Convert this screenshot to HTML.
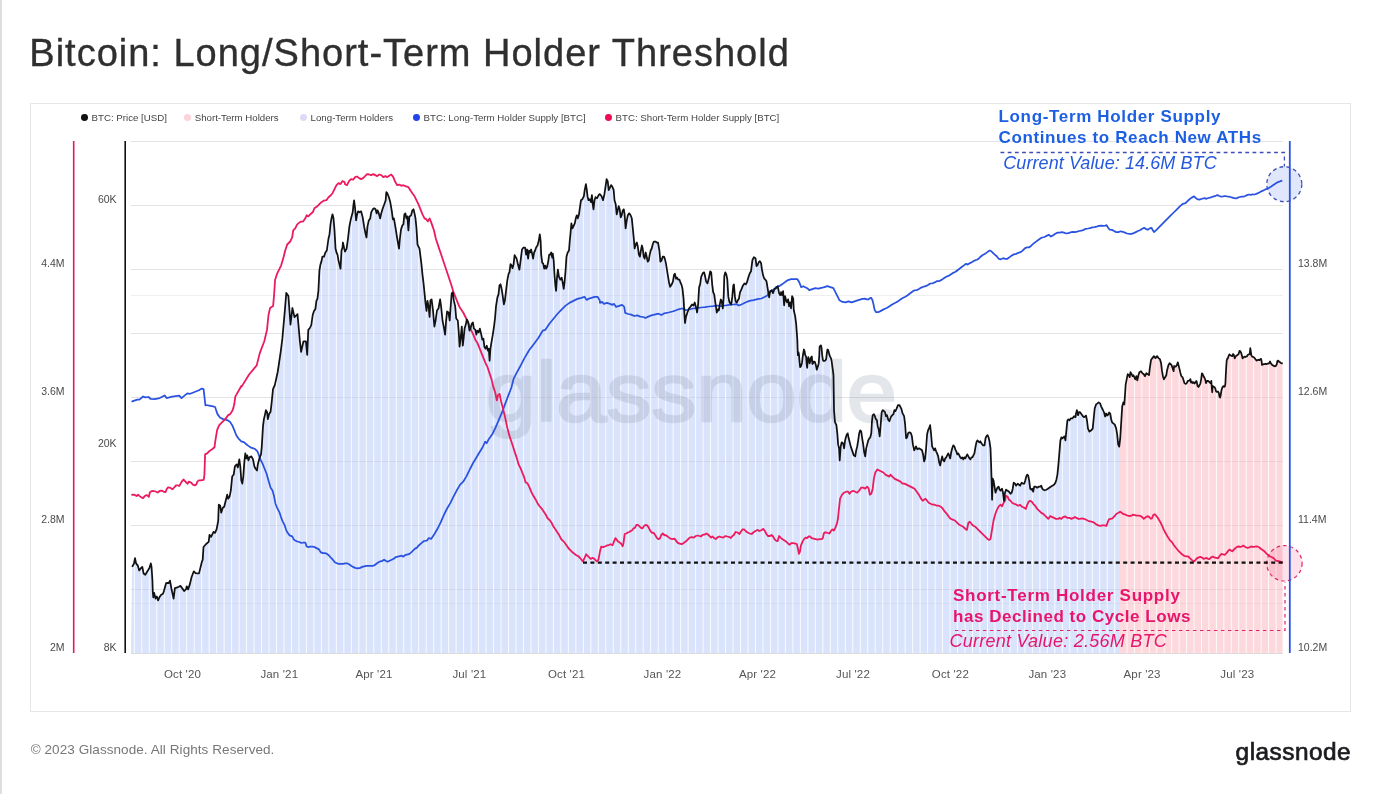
<!DOCTYPE html>
<html><head><meta charset="utf-8"><title>Bitcoin: Long/Short-Term Holder Threshold</title>
<style>
html,body{margin:0;padding:0;background:#fff;}
body{width:1379px;height:794px;position:relative;overflow:hidden;font-family:"Liberation Sans",sans-serif;}
.pb{position:absolute;left:0;top:0;width:2px;height:794px;background:#dedede;}
.title{position:absolute;left:29.3px;top:31px;font-size:38px;line-height:44px;color:#2f2f2f;letter-spacing:1.0px;white-space:nowrap;-webkit-text-stroke:0.35px #2f2f2f;}
.box{position:absolute;left:30px;top:103px;width:1319px;height:607px;border:1px solid #e6e6e6;}
.dot{position:absolute;top:114.2px;width:6.8px;height:6.8px;border-radius:50%;}
.lt{position:absolute;top:111.7px;font-size:9.7px;line-height:12px;color:#444;white-space:nowrap;}
.ann{position:absolute;white-space:nowrap;}
.ab{font-weight:bold;font-size:17px;letter-spacing:0.5px;line-height:21px;}
.ai{font-style:italic;font-size:18px;line-height:20px;letter-spacing:0.15px;}
.foot{position:absolute;left:30.7px;top:742.4px;font-size:13.5px;letter-spacing:0.07px;line-height:16px;color:#777;white-space:nowrap;}
.logo{position:absolute;left:1235.6px;top:736.7px;font-size:24.4px;line-height:30px;color:#1b1b1f;white-space:nowrap;letter-spacing:0.47px;-webkit-text-stroke:0.7px #1b1b1f;}
</style></head><body>
<div class="pb"></div>
<div class="title">Bitcoin: Long/Short-Term Holder Threshold</div>
<div class="box"></div>
<div class="dot" style="left:80.9px;background:#111"></div>
<div class="lt" style="left:91.6px">BTC: Price [USD]</div>
<div class="dot" style="left:184.0px;background:#fdd3da"></div>
<div class="lt" style="left:194.7px">Short-Term Holders</div>
<div class="dot" style="left:299.9px;background:#dcdcf8"></div>
<div class="lt" style="left:310.6px">Long-Term Holders</div>
<div class="dot" style="left:412.9px;background:#2446e8"></div>
<div class="lt" style="left:423.6px">BTC: Long-Term Holder Supply [BTC]</div>
<div class="dot" style="left:604.9px;background:#ec0f54"></div>
<div class="lt" style="left:615.6px">BTC: Short-Term Holder Supply [BTC]</div>
<svg width="1379" height="794" viewBox="0 0 1379 794" style="position:absolute;left:0;top:0">
<defs><clipPath id="ca"><polygon points="131.0,653.0 132.1,566.9 133.9,563.8 135.0,558.1 136.1,563.4 137.8,565.6 139.2,570.4 140.9,568.2 142.3,566.9 143.6,573.5 145.3,574.8 147.1,571.7 149.3,568.2 150.8,563.4 151.5,566.5 152.4,579.7 152.8,592.0 153.3,597.3 154.2,592.9 155.5,598.6 156.8,596.4 158.1,600.4 159.4,597.3 161.2,594.7 163.0,593.8 163.9,591.1 166.1,583.2 167.4,582.8 168.7,583.2 170.0,580.6 171.4,588.5 173.6,598.6 174.9,588.1 176.6,587.6 178.8,586.7 180.6,585.9 182.4,588.5 184.1,591.1 185.9,589.4 186.8,586.3 188.1,589.4 189.9,584.1 191.6,577.0 193.8,571.3 195.6,573.1 198.0,573.5 199.0,573.4 202.0,561.3 202.7,559.9 203.5,547.0 206.1,544.0 208.7,541.9 209.5,534.9 211.1,536.9 213.5,531.9 215.1,532.9 216.7,528.9 218.2,520.8 218.8,504.7 220.2,505.7 221.2,512.7 222.8,507.7 224.2,506.7 226.2,498.7 227.2,494.6 228.2,498.7 229.6,496.6 230.8,490.6 232.2,476.5 233.7,474.5 234.9,466.4 236.7,464.4 237.9,467.4 239.3,459.4 240.3,466.4 241.3,480.5 242.3,483.6 243.3,476.5 244.3,462.4 245.3,453.4 246.3,458.4 247.3,455.4 248.4,460.4 249.4,457.4 251.4,456.4 253.0,459.4 254.4,466.4 255.4,468.5 257.0,470.5 257.8,464.4 259.4,458.4 261.0,454.4 261.8,446.3 263.0,426.2 263.9,419.1 265.1,414.1 265.9,410.1 267.1,412.1 267.9,419.1 269.1,414.1 270.5,412.1 271.5,404.0 273.0,389.1 274.8,385.1 277.8,371.5 280.9,350.3 282.4,338.2 284.8,311.1 286.3,292.9 288.4,296.0 290.5,324.7 292.4,308.0 294.5,317.1 297.5,314.1 299.9,341.3 301.1,351.8 303.5,341.3 305.9,341.3 307.2,354.9 308.3,329.9 309.9,328.0 311.3,325.0 312.7,315.0 314.0,310.9 315.4,308.9 316.4,300.9 317.4,298.9 318.4,290.8 319.4,270.7 320.4,264.6 321.4,261.6 322.4,256.6 324.0,256.6 325.4,252.5 326.8,250.5 328.5,238.5 329.5,234.4 330.5,224.4 331.5,218.3 332.5,214.3 333.5,218.3 334.5,230.4 335.5,248.5 336.5,252.5 337.5,254.6 338.5,260.6 339.5,264.6 340.5,268.7 341.5,250.5 342.5,247.5 342.9,242.5 344.2,248.5 345.0,251.6 346.6,248.6 348.0,238.5 349.4,226.4 351.0,218.4 352.7,212.3 353.5,204.3 354.1,200.3 355.1,208.3 356.1,220.4 357.1,214.4 358.1,211.3 359.5,212.3 361.1,211.3 362.7,217.4 364.1,226.4 365.5,233.5 366.5,237.5 367.5,226.4 368.8,220.4 370.2,218.4 371.2,212.3 372.8,209.3 374.2,208.3 375.6,209.3 376.6,213.4 377.6,210.3 378.8,213.4 380.2,218.4 381.2,213.4 382.8,208.3 384.3,204.3 385.7,200.3 386.3,192.2 387.3,193.2 388.9,197.2 390.3,202.3 391.7,210.3 392.9,219.4 393.9,218.4 395.3,226.4 396.9,236.5 397.9,242.5 399.0,248.6 399.8,239.5 401.0,229.5 402.4,225.4 403.4,224.4 404.4,214.4 405.4,213.4 406.4,218.4 407.4,216.4 408.4,230.5 409.4,216.4 411.0,215.4 412.4,210.3 413.5,209.3 414.5,213.4 415.5,218.4 416.5,228.5 417.5,244.6 418.5,246.6 419.5,248.6 420.5,256.6 421.5,264.7 422.5,274.8 423.5,282.8 424.5,292.9 425.5,302.9 426.5,311.0 427.5,300.9 428.6,307.0 429.6,317.0 430.4,300.5 431.6,299.4 433.0,310.5 434.4,326.6 435.6,320.5 437.0,310.5 438.5,308.5 440.1,299.4 441.1,306.4 442.5,320.5 444.1,328.6 445.1,334.6 446.1,320.5 447.1,311.5 448.5,312.5 449.7,320.5 450.5,308.5 451.7,293.4 452.8,292.3 453.8,300.4 455.2,306.4 456.2,318.5 457.8,320.5 458.8,332.6 459.6,346.7 460.6,338.7 461.8,326.6 462.8,345.7 463.8,336.6 464.6,328.6 465.8,324.6 466.8,319.5 468.3,322.5 469.5,330.6 470.7,327.6 471.9,323.6 472.9,322.5 473.9,328.6 475.3,329.6 476.3,334.6 477.3,330.6 478.7,332.6 479.9,328.6 481.3,334.6 482.3,339.7 483.4,338.7 484.4,346.7 485.6,348.7 486.8,345.7 487.8,350.7 488.8,348.7 489.6,360.8 490.4,348.7 491.4,342.7 492.8,334.6 494.0,326.6 495.0,318.5 496.0,306.4 497.4,297.4 498.5,294.4 499.5,285.3 500.5,284.3 501.5,288.3 502.5,294.4 503.9,304.4 504.9,300.4 506.1,290.3 507.3,280.3 508.5,274.2 509.5,272.2 510.5,264.2 511.5,265.2 512.5,268.2 513.6,264.2 514.6,255.1 515.6,257.1 516.6,258.6 518.0,264.6 519.4,269.7 520.6,260.6 522.0,249.5 523.5,247.5 525.1,247.5 526.1,254.6 527.1,249.5 528.1,258.6 529.1,250.5 530.1,252.5 531.1,249.5 532.1,253.6 533.1,258.6 534.1,252.5 535.1,250.5 536.1,247.5 537.5,245.5 538.8,240.5 539.8,234.4 540.6,240.5 541.2,254.6 542.2,262.6 543.2,263.6 544.2,268.7 545.2,265.6 546.2,268.7 547.2,266.6 548.2,261.6 549.2,254.6 550.2,254.6 551.2,252.5 552.2,257.6 552.8,253.6 553.7,260.6 554.5,274.7 555.3,284.8 556.1,290.8 556.9,278.7 557.9,269.7 558.9,276.7 560.3,279.7 561.7,277.7 562.7,282.7 563.7,288.8 564.5,282.7 565.7,268.7 566.5,256.6 567.7,252.5 569.0,250.5 569.8,240.5 570.6,232.4 571.4,223.4 572.4,228.4 573.4,226.4 574.8,223.4 575.8,218.3 576.8,215.3 577.8,218.3 579.0,214.3 579.8,208.3 581.0,200.2 582.4,199.2 583.9,196.2 584.7,190.1 585.9,184.1 586.7,189.1 587.5,196.2 588.5,200.2 589.9,199.2 591.1,202.2 591.9,195.2 592.7,204.2 593.5,209.3 594.5,200.2 595.5,197.2 597.1,198.2 598.6,195.2 599.6,194.2 600.0,194.2 601.6,196.2 603.0,200.2 604.4,194.2 605.6,186.1 606.6,179.1 607.7,181.1 608.7,190.1 609.7,188.1 611.1,185.1 612.5,187.1 613.7,190.1 614.5,200.2 615.7,204.2 616.7,214.3 617.7,210.3 618.7,206.2 619.7,209.3 620.7,217.3 621.7,215.3 622.8,210.3 623.8,209.3 624.6,214.3 625.6,228.4 626.6,221.3 627.8,215.3 629.2,213.3 630.6,215.3 631.8,218.3 632.8,228.4 633.8,238.5 634.6,248.5 635.8,244.5 636.8,242.5 637.8,246.5 638.9,254.6 639.9,256.6 640.9,250.5 641.9,245.5 642.7,248.5 643.7,256.6 644.7,258.6 645.7,252.5 646.7,256.6 647.7,261.6 648.7,260.6 649.7,254.6 650.7,250.5 651.7,248.5 652.7,244.5 653.8,241.5 655.4,241.5 656.8,242.5 658.0,242.5 659.4,250.5 660.4,261.6 661.4,260.6 662.8,256.6 664.0,256.6 664.8,258.6 666.0,263.6 667.4,272.7 668.9,281.7 670.1,286.8 671.5,284.8 672.9,281.7 674.1,274.7 674.9,273.7 676.1,278.7 677.1,277.7 678.1,279.7 679.5,279.7 680.5,282.7 681.5,284.8 682.5,288.8 683.6,298.9 684.2,310.9 685.0,323.0 686.0,316.6 687.4,312.5 689.0,308.5 690.6,306.5 692.0,304.5 693.5,305.5 694.7,302.5 696.1,307.5 697.1,312.5 698.1,304.5 699.1,287.4 700.1,284.4 701.1,277.3 702.7,273.3 704.1,272.3 705.1,276.3 706.1,281.3 707.5,283.4 708.8,278.3 710.2,271.3 711.2,272.3 712.2,284.4 713.2,292.4 714.2,294.4 715.2,301.5 716.2,308.5 716.8,312.5 717.8,309.5 718.8,310.5 719.6,305.5 720.8,299.5 721.8,301.5 722.8,308.5 723.7,296.4 724.3,276.3 725.3,272.3 726.3,274.3 727.3,279.3 728.3,296.4 729.3,301.5 730.3,303.5 731.3,304.5 732.3,296.4 733.3,285.4 733.9,284.4 734.9,296.4 735.7,301.5 736.9,302.5 737.7,300.5 739.0,298.5 740.0,292.4 741.4,289.4 743.0,285.4 744.4,283.4 745.8,284.4 747.0,282.3 748.4,277.3 749.8,273.3 751.0,271.3 752.4,260.2 753.9,257.2 755.5,258.2 756.5,266.2 757.5,265.2 758.7,262.2 759.9,261.2 761.1,263.2 761.9,269.3 763.1,275.3 764.1,278.3 765.1,279.3 766.5,281.3 767.5,287.4 768.6,294.4 769.2,297.4 770.0,292.2 771.6,290.2 773.0,293.2 774.4,289.2 776.0,288.2 777.7,286.2 779.1,293.2 780.1,295.2 781.1,292.2 782.1,295.2 783.1,291.2 784.1,305.3 785.1,296.2 786.1,300.3 787.1,302.3 788.1,299.3 789.1,306.3 790.1,302.3 791.1,308.3 792.1,296.2 793.2,298.3 793.8,310.3 795.2,316.4 796.2,324.4 797.3,339.4 797.6,348.9 797.9,355.2 798.4,352.0 798.9,353.9 799.5,361.5 800.1,367.2 801.1,365.9 802.0,362.7 802.9,355.2 803.9,349.5 804.5,350.8 805.2,355.2 806.1,356.4 806.7,364.6 807.2,367.8 807.7,360.2 808.3,357.1 808.9,359.0 809.6,363.4 810.2,361.5 810.9,357.7 811.8,356.4 812.4,364.0 813.0,363.4 814.0,361.5 814.9,362.1 815.9,365.3 816.8,369.7 817.4,367.8 818.1,365.9 818.7,363.4 819.3,355.2 819.6,347.0 820.3,345.7 821.0,345.4 821.5,347.6 822.2,355.2 822.8,359.6 823.4,360.9 824.4,360.9 825.3,360.5 826.2,359.0 826.9,352.7 827.5,349.5 828.3,350.2 829.1,353.9 830.0,356.4 831.0,358.3 831.6,360.9 832.2,365.3 832.9,370.3 833.5,375.3 834.0,410.1 835.0,422.2 836.4,425.2 837.4,434.3 838.1,444.4 839.1,448.4 839.7,460.5 840.7,446.4 841.7,442.3 843.1,443.4 844.1,448.4 845.1,440.3 846.5,435.3 847.7,433.3 848.7,438.3 849.7,442.3 850.7,446.4 852.1,450.4 853.8,455.4 855.2,456.4 856.2,450.4 857.2,446.4 858.2,440.3 859.2,433.3 860.2,430.3 861.2,431.3 862.2,438.3 863.2,444.4 864.2,452.4 865.2,456.4 866.2,448.4 867.2,444.4 868.3,440.3 869.3,438.3 870.3,437.3 871.3,433.3 871.9,422.2 872.7,415.2 873.9,414.2 874.9,416.2 875.9,419.2 876.9,420.2 877.7,426.2 878.7,429.3 879.7,436.3 880.7,424.2 881.7,412.1 882.7,410.1 884.0,411.1 885.0,412.1 886.0,416.2 887.0,415.2 888.4,420.2 889.4,421.2 890.4,418.2 891.4,416.2 892.4,415.2 893.4,414.2 894.4,410.1 895.4,411.1 896.4,409.1 898.0,405.1 899.5,405.1 900.5,407.1 901.5,409.1 902.5,413.2 904.1,416.2 905.1,424.2 906.1,438.3 907.1,437.3 908.1,433.3 909.5,432.3 910.9,433.3 911.9,436.3 912.9,444.4 914.2,450.4 915.2,448.4 916.0,446.3 917.4,449.3 919.0,448.3 920.6,449.3 922.0,450.3 923.1,454.4 924.1,461.4 925.1,458.4 926.1,448.3 927.1,434.2 928.1,430.2 929.1,428.2 930.1,425.2 931.1,434.2 932.1,446.3 933.1,448.3 934.1,450.3 935.1,448.3 936.1,451.3 937.1,453.4 938.2,456.4 939.2,462.4 940.2,465.4 941.2,460.4 942.2,456.4 943.2,460.4 944.2,461.4 945.2,458.4 946.2,457.4 947.2,455.4 948.2,453.4 949.2,455.4 950.2,458.4 951.2,452.3 952.2,448.3 953.3,445.3 954.3,446.3 955.3,449.3 956.3,451.3 957.3,454.4 958.3,453.4 959.3,455.4 960.3,457.4 961.3,458.4 962.3,457.4 963.3,459.4 964.3,457.4 965.3,458.4 966.3,456.4 967.3,454.4 968.4,456.4 969.4,458.4 970.4,459.4 971.4,457.4 972.4,457.4 973.4,455.4 974.4,453.4 975.4,447.3 976.4,442.3 977.4,440.3 978.4,441.3 979.4,442.3 980.4,441.3 981.4,443.3 983.0,445.3 984.5,445.3 985.5,438.3 986.5,436.2 987.5,435.2 988.5,437.2 989.5,441.3 990.5,448.3 991.1,464.4 991.7,484.6 992.1,499.7 992.7,478.5 993.5,480.5 994.5,486.6 995.5,492.6 996.5,489.6 997.5,487.6 998.6,486.6 999.6,489.6 1000.6,490.6 1002.0,488.7 1003.0,492.7 1004.0,500.8 1005.0,492.7 1006.0,489.7 1007.7,490.7 1009.1,491.7 1010.5,493.8 1011.7,492.7 1012.7,488.7 1013.7,482.7 1015.1,483.7 1016.1,485.7 1017.7,483.7 1019.1,484.7 1020.1,485.7 1021.7,482.7 1023.2,483.7 1024.2,483.7 1025.2,480.7 1026.2,476.6 1027.2,474.6 1028.2,475.6 1029.2,480.7 1030.2,488.7 1031.2,489.7 1032.2,488.7 1033.2,491.7 1034.2,486.7 1035.8,486.7 1037.2,487.7 1038.7,486.7 1040.3,486.7 1041.3,485.7 1042.3,488.7 1043.3,489.7 1044.7,490.3 1046.3,489.7 1047.9,488.7 1049.3,487.7 1050.7,486.7 1052.3,485.7 1054.0,484.7 1055.4,482.7 1056.4,479.7 1057.4,474.6 1058.4,464.6 1059.4,452.5 1060.4,440.4 1061.4,437.4 1062.4,438.4 1063.4,437.4 1064.4,436.4 1065.4,440.4 1066.4,430.3 1067.4,420.3 1068.5,419.3 1069.5,420.3 1070.9,418.3 1072.5,418.3 1074.1,416.2 1075.5,417.2 1076.1,413.2 1076.9,410.2 1078.1,415.2 1078.9,412.2 1080.1,412.2 1081.5,414.2 1082.9,416.2 1084.2,417.2 1085.0,416.5 1086.0,415.5 1087.0,420.5 1088.0,428.6 1089.4,431.6 1091.0,430.6 1092.7,428.6 1093.5,420.5 1094.7,408.5 1096.1,404.4 1097.5,403.4 1098.7,402.4 1100.1,403.4 1101.1,406.4 1102.7,409.5 1104.1,412.5 1105.1,416.5 1106.1,413.5 1107.1,415.5 1108.2,414.5 1109.2,412.5 1110.2,413.5 1111.2,419.5 1112.2,422.5 1113.6,423.6 1114.8,424.6 1116.2,428.6 1117.2,434.6 1118.2,444.7 1119.2,446.7 1120.2,438.7 1121.2,422.5 1122.2,406.4 1123.3,402.4 1124.3,404.4 1124.9,396.4 1125.7,384.3 1126.7,379.3 1127.7,374.2 1128.9,375.2 1129.7,377.2 1130.5,372.2 1131.7,374.2 1132.5,376.2 1133.3,375.2 1134.3,377.2 1135.3,379.3 1136.3,376.2 1137.3,380.3 1138.4,375.2 1139.4,372.2 1141.0,371.2 1142.4,373.2 1143.8,374.2 1145.0,376.2 1146.4,373.2 1147.8,374.2 1149.0,375.2 1149.8,368.2 1151.0,360.1 1152.4,358.1 1153.9,356.1 1155.5,358.1 1157.1,356.1 1158.5,358.1 1159.9,359.1 1161.1,363.2 1161.9,370.2 1162.9,376.2 1163.9,379.3 1165.1,377.2 1166.3,375.2 1167.1,370.2 1168.4,365.2 1169.6,363.2 1170.6,364.2 1171.6,365.2 1172.6,368.2 1173.6,371.2 1174.1,366.0 1175.6,366.7 1176.0,366.3 1176.9,365.0 1177.8,362.3 1178.7,365.9 1179.6,369.4 1180.4,372.9 1181.3,376.0 1182.6,377.3 1183.5,380.0 1184.4,383.1 1185.5,383.9 1186.6,383.5 1187.8,380.9 1188.8,380.9 1189.7,380.0 1190.4,379.1 1191.0,382.6 1191.9,381.7 1192.8,383.1 1193.7,382.2 1194.5,383.5 1195.4,382.6 1196.3,380.9 1196.9,382.6 1197.6,386.1 1198.5,387.0 1199.4,385.3 1200.3,383.9 1201.2,379.1 1201.9,373.4 1202.5,373.8 1203.4,376.0 1204.2,377.3 1205.1,379.1 1206.0,383.1 1206.9,380.9 1207.8,380.9 1208.7,381.3 1209.5,382.2 1210.4,383.1 1210.9,382.6 1211.3,380.9 1211.7,386.1 1212.2,392.3 1212.6,386.1 1213.5,386.6 1214.4,387.0 1215.3,388.4 1216.0,391.4 1217.0,391.9 1217.9,391.4 1218.8,392.8 1219.5,396.7 1220.1,397.6 1220.7,395.0 1221.4,390.6 1222.3,387.5 1223.2,386.1 1224.1,387.0 1225.0,386.1 1225.4,383.5 1225.8,374.7 1226.3,365.9 1226.7,360.6 1227.2,358.8 1227.8,358.4 1228.5,356.2 1229.4,354.4 1230.4,355.3 1231.3,355.7 1232.2,356.2 1233.1,354.0 1233.8,354.8 1234.7,358.4 1235.5,356.6 1236.4,355.7 1237.8,354.8 1238.6,354.0 1239.5,350.9 1240.4,351.3 1241.0,352.6 1241.7,354.8 1242.6,358.4 1243.5,357.5 1244.4,356.6 1245.2,357.0 1246.1,356.6 1247.0,356.2 1247.9,354.8 1248.8,354.4 1249.7,354.0 1250.3,348.2 1250.7,350.9 1251.4,355.7 1252.3,356.6 1253.2,357.0 1254.1,357.5 1254.9,358.4 1255.8,359.7 1256.7,360.6 1257.6,360.1 1258.5,359.7 1259.4,360.1 1260.2,359.3 1261.1,358.8 1261.6,361.5 1262.0,365.0 1262.9,364.5 1263.8,364.1 1264.6,364.1 1265.5,363.7 1266.4,364.1 1267.3,363.7 1268.2,363.7 1269.1,363.2 1270.1,361.5 1270.8,363.2 1271.7,364.5 1272.8,365.4 1273.9,365.9 1275.1,366.3 1275.9,365.9 1276.8,364.1 1277.4,361.0 1278.3,360.6 1279.2,361.9 1280.1,362.3 1281.0,363.0 1281.8,363.4 1282.5,363.2 1282.5,653.0"/></clipPath></defs>
<line x1="131" y1="141.5" x2="1283" y2="141.5" stroke="#e3e3e3" stroke-width="1"/>
<line x1="131" y1="205.5" x2="1283" y2="205.5" stroke="#e3e3e3" stroke-width="1"/>
<line x1="131" y1="269.5" x2="1283" y2="269.5" stroke="#e3e3e3" stroke-width="1"/>
<line x1="131" y1="333.5" x2="1283" y2="333.5" stroke="#e3e3e3" stroke-width="1"/>
<line x1="131" y1="397.5" x2="1283" y2="397.5" stroke="#e3e3e3" stroke-width="1"/>
<line x1="131" y1="461.5" x2="1283" y2="461.5" stroke="#e3e3e3" stroke-width="1"/>
<line x1="131" y1="525.5" x2="1283" y2="525.5" stroke="#e3e3e3" stroke-width="1"/>
<line x1="131" y1="589.5" x2="1283" y2="589.5" stroke="#e3e3e3" stroke-width="1"/>
<line x1="131" y1="295.5" x2="1283" y2="295.5" stroke="#efefef" stroke-width="1"/>
<line x1="131" y1="603.5" x2="1283" y2="603.5" stroke="#efefef" stroke-width="1"/>
<polygon points="131.0,653.0 132.1,566.9 133.9,563.8 135.0,558.1 136.1,563.4 137.8,565.6 139.2,570.4 140.9,568.2 142.3,566.9 143.6,573.5 145.3,574.8 147.1,571.7 149.3,568.2 150.8,563.4 151.5,566.5 152.4,579.7 152.8,592.0 153.3,597.3 154.2,592.9 155.5,598.6 156.8,596.4 158.1,600.4 159.4,597.3 161.2,594.7 163.0,593.8 163.9,591.1 166.1,583.2 167.4,582.8 168.7,583.2 170.0,580.6 171.4,588.5 173.6,598.6 174.9,588.1 176.6,587.6 178.8,586.7 180.6,585.9 182.4,588.5 184.1,591.1 185.9,589.4 186.8,586.3 188.1,589.4 189.9,584.1 191.6,577.0 193.8,571.3 195.6,573.1 198.0,573.5 199.0,573.4 202.0,561.3 202.7,559.9 203.5,547.0 206.1,544.0 208.7,541.9 209.5,534.9 211.1,536.9 213.5,531.9 215.1,532.9 216.7,528.9 218.2,520.8 218.8,504.7 220.2,505.7 221.2,512.7 222.8,507.7 224.2,506.7 226.2,498.7 227.2,494.6 228.2,498.7 229.6,496.6 230.8,490.6 232.2,476.5 233.7,474.5 234.9,466.4 236.7,464.4 237.9,467.4 239.3,459.4 240.3,466.4 241.3,480.5 242.3,483.6 243.3,476.5 244.3,462.4 245.3,453.4 246.3,458.4 247.3,455.4 248.4,460.4 249.4,457.4 251.4,456.4 253.0,459.4 254.4,466.4 255.4,468.5 257.0,470.5 257.8,464.4 259.4,458.4 261.0,454.4 261.8,446.3 263.0,426.2 263.9,419.1 265.1,414.1 265.9,410.1 267.1,412.1 267.9,419.1 269.1,414.1 270.5,412.1 271.5,404.0 273.0,389.1 274.8,385.1 277.8,371.5 280.9,350.3 282.4,338.2 284.8,311.1 286.3,292.9 288.4,296.0 290.5,324.7 292.4,308.0 294.5,317.1 297.5,314.1 299.9,341.3 301.1,351.8 303.5,341.3 305.9,341.3 307.2,354.9 308.3,329.9 309.9,328.0 311.3,325.0 312.7,315.0 314.0,310.9 315.4,308.9 316.4,300.9 317.4,298.9 318.4,290.8 319.4,270.7 320.4,264.6 321.4,261.6 322.4,256.6 324.0,256.6 325.4,252.5 326.8,250.5 328.5,238.5 329.5,234.4 330.5,224.4 331.5,218.3 332.5,214.3 333.5,218.3 334.5,230.4 335.5,248.5 336.5,252.5 337.5,254.6 338.5,260.6 339.5,264.6 340.5,268.7 341.5,250.5 342.5,247.5 342.9,242.5 344.2,248.5 345.0,251.6 346.6,248.6 348.0,238.5 349.4,226.4 351.0,218.4 352.7,212.3 353.5,204.3 354.1,200.3 355.1,208.3 356.1,220.4 357.1,214.4 358.1,211.3 359.5,212.3 361.1,211.3 362.7,217.4 364.1,226.4 365.5,233.5 366.5,237.5 367.5,226.4 368.8,220.4 370.2,218.4 371.2,212.3 372.8,209.3 374.2,208.3 375.6,209.3 376.6,213.4 377.6,210.3 378.8,213.4 380.2,218.4 381.2,213.4 382.8,208.3 384.3,204.3 385.7,200.3 386.3,192.2 387.3,193.2 388.9,197.2 390.3,202.3 391.7,210.3 392.9,219.4 393.9,218.4 395.3,226.4 396.9,236.5 397.9,242.5 399.0,248.6 399.8,239.5 401.0,229.5 402.4,225.4 403.4,224.4 404.4,214.4 405.4,213.4 406.4,218.4 407.4,216.4 408.4,230.5 409.4,216.4 411.0,215.4 412.4,210.3 413.5,209.3 414.5,213.4 415.5,218.4 416.5,228.5 417.5,244.6 418.5,246.6 419.5,248.6 420.5,256.6 421.5,264.7 422.5,274.8 423.5,282.8 424.5,292.9 425.5,302.9 426.5,311.0 427.5,300.9 428.6,307.0 429.6,317.0 430.4,300.5 431.6,299.4 433.0,310.5 434.4,326.6 435.6,320.5 437.0,310.5 438.5,308.5 440.1,299.4 441.1,306.4 442.5,320.5 444.1,328.6 445.1,334.6 446.1,320.5 447.1,311.5 448.5,312.5 449.7,320.5 450.5,308.5 451.7,293.4 452.8,292.3 453.8,300.4 455.2,306.4 456.2,318.5 457.8,320.5 458.8,332.6 459.6,346.7 460.6,338.7 461.8,326.6 462.8,345.7 463.8,336.6 464.6,328.6 465.8,324.6 466.8,319.5 468.3,322.5 469.5,330.6 470.7,327.6 471.9,323.6 472.9,322.5 473.9,328.6 475.3,329.6 476.3,334.6 477.3,330.6 478.7,332.6 479.9,328.6 481.3,334.6 482.3,339.7 483.4,338.7 484.4,346.7 485.6,348.7 486.8,345.7 487.8,350.7 488.8,348.7 489.6,360.8 490.4,348.7 491.4,342.7 492.8,334.6 494.0,326.6 495.0,318.5 496.0,306.4 497.4,297.4 498.5,294.4 499.5,285.3 500.5,284.3 501.5,288.3 502.5,294.4 503.9,304.4 504.9,300.4 506.1,290.3 507.3,280.3 508.5,274.2 509.5,272.2 510.5,264.2 511.5,265.2 512.5,268.2 513.6,264.2 514.6,255.1 515.6,257.1 516.6,258.6 518.0,264.6 519.4,269.7 520.6,260.6 522.0,249.5 523.5,247.5 525.1,247.5 526.1,254.6 527.1,249.5 528.1,258.6 529.1,250.5 530.1,252.5 531.1,249.5 532.1,253.6 533.1,258.6 534.1,252.5 535.1,250.5 536.1,247.5 537.5,245.5 538.8,240.5 539.8,234.4 540.6,240.5 541.2,254.6 542.2,262.6 543.2,263.6 544.2,268.7 545.2,265.6 546.2,268.7 547.2,266.6 548.2,261.6 549.2,254.6 550.2,254.6 551.2,252.5 552.2,257.6 552.8,253.6 553.7,260.6 554.5,274.7 555.3,284.8 556.1,290.8 556.9,278.7 557.9,269.7 558.9,276.7 560.3,279.7 561.7,277.7 562.7,282.7 563.7,288.8 564.5,282.7 565.7,268.7 566.5,256.6 567.7,252.5 569.0,250.5 569.8,240.5 570.6,232.4 571.4,223.4 572.4,228.4 573.4,226.4 574.8,223.4 575.8,218.3 576.8,215.3 577.8,218.3 579.0,214.3 579.8,208.3 581.0,200.2 582.4,199.2 583.9,196.2 584.7,190.1 585.9,184.1 586.7,189.1 587.5,196.2 588.5,200.2 589.9,199.2 591.1,202.2 591.9,195.2 592.7,204.2 593.5,209.3 594.5,200.2 595.5,197.2 597.1,198.2 598.6,195.2 599.6,194.2 600.0,194.2 601.6,196.2 603.0,200.2 604.4,194.2 605.6,186.1 606.6,179.1 607.7,181.1 608.7,190.1 609.7,188.1 611.1,185.1 612.5,187.1 613.7,190.1 614.5,200.2 615.7,204.2 616.7,214.3 617.7,210.3 618.7,206.2 619.7,209.3 620.7,217.3 621.7,215.3 622.8,210.3 623.8,209.3 624.6,214.3 625.6,228.4 626.6,221.3 627.8,215.3 629.2,213.3 630.6,215.3 631.8,218.3 632.8,228.4 633.8,238.5 634.6,248.5 635.8,244.5 636.8,242.5 637.8,246.5 638.9,254.6 639.9,256.6 640.9,250.5 641.9,245.5 642.7,248.5 643.7,256.6 644.7,258.6 645.7,252.5 646.7,256.6 647.7,261.6 648.7,260.6 649.7,254.6 650.7,250.5 651.7,248.5 652.7,244.5 653.8,241.5 655.4,241.5 656.8,242.5 658.0,242.5 659.4,250.5 660.4,261.6 661.4,260.6 662.8,256.6 664.0,256.6 664.8,258.6 666.0,263.6 667.4,272.7 668.9,281.7 670.1,286.8 671.5,284.8 672.9,281.7 674.1,274.7 674.9,273.7 676.1,278.7 677.1,277.7 678.1,279.7 679.5,279.7 680.5,282.7 681.5,284.8 682.5,288.8 683.6,298.9 684.2,310.9 685.0,323.0 686.0,316.6 687.4,312.5 689.0,308.5 690.6,306.5 692.0,304.5 693.5,305.5 694.7,302.5 696.1,307.5 697.1,312.5 698.1,304.5 699.1,287.4 700.1,284.4 701.1,277.3 702.7,273.3 704.1,272.3 705.1,276.3 706.1,281.3 707.5,283.4 708.8,278.3 710.2,271.3 711.2,272.3 712.2,284.4 713.2,292.4 714.2,294.4 715.2,301.5 716.2,308.5 716.8,312.5 717.8,309.5 718.8,310.5 719.6,305.5 720.8,299.5 721.8,301.5 722.8,308.5 723.7,296.4 724.3,276.3 725.3,272.3 726.3,274.3 727.3,279.3 728.3,296.4 729.3,301.5 730.3,303.5 731.3,304.5 732.3,296.4 733.3,285.4 733.9,284.4 734.9,296.4 735.7,301.5 736.9,302.5 737.7,300.5 739.0,298.5 740.0,292.4 741.4,289.4 743.0,285.4 744.4,283.4 745.8,284.4 747.0,282.3 748.4,277.3 749.8,273.3 751.0,271.3 752.4,260.2 753.9,257.2 755.5,258.2 756.5,266.2 757.5,265.2 758.7,262.2 759.9,261.2 761.1,263.2 761.9,269.3 763.1,275.3 764.1,278.3 765.1,279.3 766.5,281.3 767.5,287.4 768.6,294.4 769.2,297.4 770.0,292.2 771.6,290.2 773.0,293.2 774.4,289.2 776.0,288.2 777.7,286.2 779.1,293.2 780.1,295.2 781.1,292.2 782.1,295.2 783.1,291.2 784.1,305.3 785.1,296.2 786.1,300.3 787.1,302.3 788.1,299.3 789.1,306.3 790.1,302.3 791.1,308.3 792.1,296.2 793.2,298.3 793.8,310.3 795.2,316.4 796.2,324.4 797.3,339.4 797.6,348.9 797.9,355.2 798.4,352.0 798.9,353.9 799.5,361.5 800.1,367.2 801.1,365.9 802.0,362.7 802.9,355.2 803.9,349.5 804.5,350.8 805.2,355.2 806.1,356.4 806.7,364.6 807.2,367.8 807.7,360.2 808.3,357.1 808.9,359.0 809.6,363.4 810.2,361.5 810.9,357.7 811.8,356.4 812.4,364.0 813.0,363.4 814.0,361.5 814.9,362.1 815.9,365.3 816.8,369.7 817.4,367.8 818.1,365.9 818.7,363.4 819.3,355.2 819.6,347.0 820.3,345.7 821.0,345.4 821.5,347.6 822.2,355.2 822.8,359.6 823.4,360.9 824.4,360.9 825.3,360.5 826.2,359.0 826.9,352.7 827.5,349.5 828.3,350.2 829.1,353.9 830.0,356.4 831.0,358.3 831.6,360.9 832.2,365.3 832.9,370.3 833.5,375.3 834.0,410.1 835.0,422.2 836.4,425.2 837.4,434.3 838.1,444.4 839.1,448.4 839.7,460.5 840.7,446.4 841.7,442.3 843.1,443.4 844.1,448.4 845.1,440.3 846.5,435.3 847.7,433.3 848.7,438.3 849.7,442.3 850.7,446.4 852.1,450.4 853.8,455.4 855.2,456.4 856.2,450.4 857.2,446.4 858.2,440.3 859.2,433.3 860.2,430.3 861.2,431.3 862.2,438.3 863.2,444.4 864.2,452.4 865.2,456.4 866.2,448.4 867.2,444.4 868.3,440.3 869.3,438.3 870.3,437.3 871.3,433.3 871.9,422.2 872.7,415.2 873.9,414.2 874.9,416.2 875.9,419.2 876.9,420.2 877.7,426.2 878.7,429.3 879.7,436.3 880.7,424.2 881.7,412.1 882.7,410.1 884.0,411.1 885.0,412.1 886.0,416.2 887.0,415.2 888.4,420.2 889.4,421.2 890.4,418.2 891.4,416.2 892.4,415.2 893.4,414.2 894.4,410.1 895.4,411.1 896.4,409.1 898.0,405.1 899.5,405.1 900.5,407.1 901.5,409.1 902.5,413.2 904.1,416.2 905.1,424.2 906.1,438.3 907.1,437.3 908.1,433.3 909.5,432.3 910.9,433.3 911.9,436.3 912.9,444.4 914.2,450.4 915.2,448.4 916.0,446.3 917.4,449.3 919.0,448.3 920.6,449.3 922.0,450.3 923.1,454.4 924.1,461.4 925.1,458.4 926.1,448.3 927.1,434.2 928.1,430.2 929.1,428.2 930.1,425.2 931.1,434.2 932.1,446.3 933.1,448.3 934.1,450.3 935.1,448.3 936.1,451.3 937.1,453.4 938.2,456.4 939.2,462.4 940.2,465.4 941.2,460.4 942.2,456.4 943.2,460.4 944.2,461.4 945.2,458.4 946.2,457.4 947.2,455.4 948.2,453.4 949.2,455.4 950.2,458.4 951.2,452.3 952.2,448.3 953.3,445.3 954.3,446.3 955.3,449.3 956.3,451.3 957.3,454.4 958.3,453.4 959.3,455.4 960.3,457.4 961.3,458.4 962.3,457.4 963.3,459.4 964.3,457.4 965.3,458.4 966.3,456.4 967.3,454.4 968.4,456.4 969.4,458.4 970.4,459.4 971.4,457.4 972.4,457.4 973.4,455.4 974.4,453.4 975.4,447.3 976.4,442.3 977.4,440.3 978.4,441.3 979.4,442.3 980.4,441.3 981.4,443.3 983.0,445.3 984.5,445.3 985.5,438.3 986.5,436.2 987.5,435.2 988.5,437.2 989.5,441.3 990.5,448.3 991.1,464.4 991.7,484.6 992.1,499.7 992.7,478.5 993.5,480.5 994.5,486.6 995.5,492.6 996.5,489.6 997.5,487.6 998.6,486.6 999.6,489.6 1000.6,490.6 1002.0,488.7 1003.0,492.7 1004.0,500.8 1005.0,492.7 1006.0,489.7 1007.7,490.7 1009.1,491.7 1010.5,493.8 1011.7,492.7 1012.7,488.7 1013.7,482.7 1015.1,483.7 1016.1,485.7 1017.7,483.7 1019.1,484.7 1020.1,485.7 1021.7,482.7 1023.2,483.7 1024.2,483.7 1025.2,480.7 1026.2,476.6 1027.2,474.6 1028.2,475.6 1029.2,480.7 1030.2,488.7 1031.2,489.7 1032.2,488.7 1033.2,491.7 1034.2,486.7 1035.8,486.7 1037.2,487.7 1038.7,486.7 1040.3,486.7 1041.3,485.7 1042.3,488.7 1043.3,489.7 1044.7,490.3 1046.3,489.7 1047.9,488.7 1049.3,487.7 1050.7,486.7 1052.3,485.7 1054.0,484.7 1055.4,482.7 1056.4,479.7 1057.4,474.6 1058.4,464.6 1059.4,452.5 1060.4,440.4 1061.4,437.4 1062.4,438.4 1063.4,437.4 1064.4,436.4 1065.4,440.4 1066.4,430.3 1067.4,420.3 1068.5,419.3 1069.5,420.3 1070.9,418.3 1072.5,418.3 1074.1,416.2 1075.5,417.2 1076.1,413.2 1076.9,410.2 1078.1,415.2 1078.9,412.2 1080.1,412.2 1081.5,414.2 1082.9,416.2 1084.2,417.2 1085.0,416.5 1086.0,415.5 1087.0,420.5 1088.0,428.6 1089.4,431.6 1091.0,430.6 1092.7,428.6 1093.5,420.5 1094.7,408.5 1096.1,404.4 1097.5,403.4 1098.7,402.4 1100.1,403.4 1101.1,406.4 1102.7,409.5 1104.1,412.5 1105.1,416.5 1106.1,413.5 1107.1,415.5 1108.2,414.5 1109.2,412.5 1110.2,413.5 1111.2,419.5 1112.2,422.5 1113.6,423.6 1114.8,424.6 1116.2,428.6 1117.2,434.6 1118.2,444.7 1119.2,446.7 1120.0,440.5 1120.0,653.0" fill="#d9e3fb"/>
<polygon points="1120.0,653.0 1120.0,440.5 1120.2,438.7 1121.2,422.5 1122.2,406.4 1123.3,402.4 1124.3,404.4 1124.9,396.4 1125.7,384.3 1126.7,379.3 1127.7,374.2 1128.9,375.2 1129.7,377.2 1130.5,372.2 1131.7,374.2 1132.5,376.2 1133.3,375.2 1134.3,377.2 1135.3,379.3 1136.3,376.2 1137.3,380.3 1138.4,375.2 1139.4,372.2 1141.0,371.2 1142.4,373.2 1143.8,374.2 1145.0,376.2 1146.4,373.2 1147.8,374.2 1149.0,375.2 1149.8,368.2 1151.0,360.1 1152.4,358.1 1153.9,356.1 1155.5,358.1 1157.1,356.1 1158.5,358.1 1159.9,359.1 1161.1,363.2 1161.9,370.2 1162.9,376.2 1163.9,379.3 1165.1,377.2 1166.3,375.2 1167.1,370.2 1168.4,365.2 1169.6,363.2 1170.6,364.2 1171.6,365.2 1172.6,368.2 1173.6,371.2 1174.1,366.0 1175.6,366.7 1176.0,366.3 1176.9,365.0 1177.8,362.3 1178.7,365.9 1179.6,369.4 1180.4,372.9 1181.3,376.0 1182.6,377.3 1183.5,380.0 1184.4,383.1 1185.5,383.9 1186.6,383.5 1187.8,380.9 1188.8,380.9 1189.7,380.0 1190.4,379.1 1191.0,382.6 1191.9,381.7 1192.8,383.1 1193.7,382.2 1194.5,383.5 1195.4,382.6 1196.3,380.9 1196.9,382.6 1197.6,386.1 1198.5,387.0 1199.4,385.3 1200.3,383.9 1201.2,379.1 1201.9,373.4 1202.5,373.8 1203.4,376.0 1204.2,377.3 1205.1,379.1 1206.0,383.1 1206.9,380.9 1207.8,380.9 1208.7,381.3 1209.5,382.2 1210.4,383.1 1210.9,382.6 1211.3,380.9 1211.7,386.1 1212.2,392.3 1212.6,386.1 1213.5,386.6 1214.4,387.0 1215.3,388.4 1216.0,391.4 1217.0,391.9 1217.9,391.4 1218.8,392.8 1219.5,396.7 1220.1,397.6 1220.7,395.0 1221.4,390.6 1222.3,387.5 1223.2,386.1 1224.1,387.0 1225.0,386.1 1225.4,383.5 1225.8,374.7 1226.3,365.9 1226.7,360.6 1227.2,358.8 1227.8,358.4 1228.5,356.2 1229.4,354.4 1230.4,355.3 1231.3,355.7 1232.2,356.2 1233.1,354.0 1233.8,354.8 1234.7,358.4 1235.5,356.6 1236.4,355.7 1237.8,354.8 1238.6,354.0 1239.5,350.9 1240.4,351.3 1241.0,352.6 1241.7,354.8 1242.6,358.4 1243.5,357.5 1244.4,356.6 1245.2,357.0 1246.1,356.6 1247.0,356.2 1247.9,354.8 1248.8,354.4 1249.7,354.0 1250.3,348.2 1250.7,350.9 1251.4,355.7 1252.3,356.6 1253.2,357.0 1254.1,357.5 1254.9,358.4 1255.8,359.7 1256.7,360.6 1257.6,360.1 1258.5,359.7 1259.4,360.1 1260.2,359.3 1261.1,358.8 1261.6,361.5 1262.0,365.0 1262.9,364.5 1263.8,364.1 1264.6,364.1 1265.5,363.7 1266.4,364.1 1267.3,363.7 1268.2,363.7 1269.1,363.2 1270.1,361.5 1270.8,363.2 1271.7,364.5 1272.8,365.4 1273.9,365.9 1275.1,366.3 1275.9,365.9 1276.8,364.1 1277.4,361.0 1278.3,360.6 1279.2,361.9 1280.1,362.3 1281.0,363.0 1281.8,363.4 1282.7,363.2 1282.5,363.3 1282.5,653.0" fill="#fdd8dc"/>
<g clip-path="url(#ca)">
<line x1="131" y1="141.5" x2="1283" y2="141.5" stroke="#8a8f9c" stroke-opacity="0.16" stroke-width="1"/>
<line x1="131" y1="205.5" x2="1283" y2="205.5" stroke="#8a8f9c" stroke-opacity="0.16" stroke-width="1"/>
<line x1="131" y1="269.5" x2="1283" y2="269.5" stroke="#8a8f9c" stroke-opacity="0.16" stroke-width="1"/>
<line x1="131" y1="333.5" x2="1283" y2="333.5" stroke="#8a8f9c" stroke-opacity="0.16" stroke-width="1"/>
<line x1="131" y1="397.5" x2="1283" y2="397.5" stroke="#8a8f9c" stroke-opacity="0.16" stroke-width="1"/>
<line x1="131" y1="461.5" x2="1283" y2="461.5" stroke="#8a8f9c" stroke-opacity="0.16" stroke-width="1"/>
<line x1="131" y1="525.5" x2="1283" y2="525.5" stroke="#8a8f9c" stroke-opacity="0.16" stroke-width="1"/>
<line x1="131" y1="589.5" x2="1283" y2="589.5" stroke="#8a8f9c" stroke-opacity="0.16" stroke-width="1"/>
<line x1="131" y1="295.5" x2="1283" y2="295.5" stroke="#8a8f9c" stroke-opacity="0.1" stroke-width="1"/>
<line x1="131" y1="603.5" x2="1283" y2="603.5" stroke="#8a8f9c" stroke-opacity="0.1" stroke-width="1"/>
<path d="M134.32 140V653.0 M141.80 140V653.0 M149.28 140V653.0 M156.77 140V653.0 M164.25 140V653.0 M171.74 140V653.0 M179.22 140V653.0 M186.70 140V653.0 M194.19 140V653.0 M201.67 140V653.0 M209.16 140V653.0 M216.64 140V653.0 M224.12 140V653.0 M231.61 140V653.0 M239.09 140V653.0 M246.58 140V653.0 M254.06 140V653.0 M261.54 140V653.0 M269.03 140V653.0 M276.51 140V653.0 M284.00 140V653.0 M291.48 140V653.0 M298.96 140V653.0 M306.45 140V653.0 M313.93 140V653.0 M321.42 140V653.0 M328.90 140V653.0 M336.38 140V653.0 M343.87 140V653.0 M351.35 140V653.0 M358.84 140V653.0 M366.32 140V653.0 M373.80 140V653.0 M381.29 140V653.0 M388.77 140V653.0 M396.26 140V653.0 M403.74 140V653.0 M411.22 140V653.0 M418.71 140V653.0 M426.19 140V653.0 M433.68 140V653.0 M441.16 140V653.0 M448.64 140V653.0 M456.13 140V653.0 M463.61 140V653.0 M471.10 140V653.0 M478.58 140V653.0 M486.06 140V653.0 M493.55 140V653.0 M501.03 140V653.0 M508.52 140V653.0 M516.00 140V653.0 M523.48 140V653.0 M530.97 140V653.0 M538.45 140V653.0 M545.94 140V653.0 M553.42 140V653.0 M560.90 140V653.0 M568.39 140V653.0 M575.87 140V653.0 M583.36 140V653.0 M590.84 140V653.0 M598.32 140V653.0 M605.81 140V653.0 M613.29 140V653.0 M620.78 140V653.0 M628.26 140V653.0 M635.74 140V653.0 M643.23 140V653.0 M650.71 140V653.0 M658.20 140V653.0 M665.68 140V653.0 M673.16 140V653.0 M680.65 140V653.0 M688.13 140V653.0 M695.62 140V653.0 M703.10 140V653.0 M710.58 140V653.0 M718.07 140V653.0 M725.55 140V653.0 M733.04 140V653.0 M740.52 140V653.0 M748.00 140V653.0 M755.49 140V653.0 M762.97 140V653.0 M770.46 140V653.0 M777.94 140V653.0 M785.42 140V653.0 M792.91 140V653.0 M800.39 140V653.0 M807.88 140V653.0 M815.36 140V653.0 M822.84 140V653.0 M830.33 140V653.0 M837.81 140V653.0 M845.30 140V653.0 M852.78 140V653.0 M860.26 140V653.0 M867.75 140V653.0 M875.23 140V653.0 M882.72 140V653.0 M890.20 140V653.0 M897.68 140V653.0 M905.17 140V653.0 M912.65 140V653.0 M920.14 140V653.0 M927.62 140V653.0 M935.10 140V653.0 M942.59 140V653.0 M950.07 140V653.0 M957.56 140V653.0 M965.04 140V653.0 M972.52 140V653.0 M980.01 140V653.0 M987.49 140V653.0 M994.98 140V653.0 M1002.46 140V653.0 M1009.94 140V653.0 M1017.43 140V653.0 M1024.91 140V653.0 M1032.40 140V653.0 M1039.88 140V653.0 M1047.36 140V653.0 M1054.85 140V653.0 M1062.33 140V653.0 M1069.82 140V653.0 M1077.30 140V653.0 M1084.78 140V653.0 M1092.27 140V653.0 M1099.75 140V653.0 M1107.24 140V653.0 M1114.72 140V653.0 M1127.00 140V653.0 M1134.45 140V653.0 M1141.90 140V653.0 M1149.35 140V653.0 M1156.80 140V653.0 M1164.25 140V653.0 M1171.70 140V653.0 M1179.15 140V653.0 M1186.60 140V653.0 M1194.05 140V653.0 M1201.50 140V653.0 M1208.95 140V653.0 M1216.40 140V653.0 M1223.85 140V653.0 M1231.30 140V653.0 M1238.75 140V653.0 M1246.20 140V653.0 M1253.65 140V653.0 M1261.10 140V653.0 M1268.55 140V653.0 M1276.00 140V653.0" stroke="#ffffff" stroke-opacity="0.85" stroke-width="1"/>
</g>
<line x1="131" y1="653.5" x2="1283" y2="653.5" stroke="#dcdcdc" stroke-width="1"/>
<g opacity="0.2"><text x="486" y="421" font-family="Liberation Sans, sans-serif" font-size="84" fill="#7a8499" stroke="#7a8499" stroke-width="2.4" stroke-linejoin="round" textLength="411" lengthAdjust="spacingAndGlyphs">glassnode</text></g>
<path d="M1000.5 152.5H1284.4V166.5" fill="none" stroke="#3d4db5" stroke-width="1.3" stroke-dasharray="3.8,3.4"/>
<circle cx="1284.3" cy="184.2" r="17.5" fill="#4a70ec" fill-opacity="0.17" stroke="#3d4db5" stroke-width="1.3" stroke-dasharray="3.8,3.2"/>
<path d="M955 630.5H1285V582" fill="none" stroke="#e0246a" stroke-width="1.2" stroke-dasharray="3.4,3.6"/>
<circle cx="1284.4" cy="563.3" r="17.7" fill="#f03c76" fill-opacity="0.15" stroke="#e0246a" stroke-width="1.2" stroke-dasharray="3.6,3.2"/>
<polyline points="131.6,401.1 132.2,401.4 137.3,399.6 139.4,399.6 143.1,396.5 145.2,397.4 148.5,397.0 150.7,399.0 154.7,399.2 159.7,398.1 164.8,395.4 166.6,398.1 172.1,396.7 179.3,395.6 181.5,398.1 187.3,393.4 190.2,393.8 198.9,390.2 201.8,388.6 203.6,389.1 205.4,405.4 206.1,405.0 209.1,405.6 213.1,406.4 215.1,407.0 216.1,410.1 217.5,414.1 220.2,417.7 223.2,419.1 227.2,420.1 230.2,422.1 232.2,425.2 234.3,430.2 236.3,435.2 238.3,438.3 241.3,441.3 244.3,442.3 246.3,444.3 248.4,445.9 250.4,447.3 253.4,448.3 255.4,449.3 257.4,451.3 259.0,455.4 260.4,459.4 262.4,463.4 264.5,468.5 266.5,473.5 268.5,480.5 270.5,487.6 272.5,490.6 273.9,495.6 275.5,503.7 277.5,508.7 279.6,512.7 281.0,517.1 282.5,521.2 284.6,525.2 286.1,529.8 287.6,532.8 289.6,535.4 292.2,536.4 293.7,539.4 295.2,540.5 297.3,541.5 299.3,542.0 301.3,543.0 303.4,542.5 305.4,542.5 306.6,546.5 308.4,547.1 310.5,546.5 312.5,546.5 314.5,547.1 316.5,548.1 318.6,549.1 320.6,552.1 322.6,553.1 324.7,553.1 326.7,553.7 328.7,555.2 330.8,557.7 332.8,559.7 334.8,562.3 336.9,563.3 338.9,563.8 340.9,563.8 342.9,563.8 345.0,563.3 347.0,563.3 349.0,564.3 351.1,565.8 353.1,566.9 355.1,567.9 357.7,568.4 360.2,567.9 362.2,566.9 364.3,566.3 366.3,565.8 368.3,565.8 370.4,565.8 372.4,565.8 374.4,565.3 376.4,563.8 378.5,562.3 380.5,561.3 382.5,560.8 384.1,559.7 385.6,560.8 387.6,561.8 389.6,560.8 391.7,559.7 393.7,558.7 395.7,557.2 397.8,556.7 399.8,556.2 401.8,555.7 403.4,556.7 404.9,555.2 406.9,554.7 408.9,554.2 411.0,552.6 413.0,550.6 415.0,548.6 417.1,547.6 418.2,546.0 421.4,543.2 424.0,541.0 426.8,540.6 428.9,538.0 431.1,538.9 434.3,534.2 437.5,528.8 440.7,522.4 443.9,514.9 447.1,508.5 450.3,503.1 453.5,496.7 456.8,490.3 460.0,484.9 463.2,481.7 466.4,476.4 469.6,469.9 472.8,463.5 476.0,458.2 479.2,452.8 482.5,447.5 485.2,441.7 486.7,443.2 488.9,438.9 492.1,434.6 495.3,428.2 498.5,420.7 501.7,413.2 504.9,404.6 508.1,396.1 511.4,387.5 513.6,378.9 516.6,372.9 520.0,366.8 524.6,357.9 529.1,350.3 533.7,344.3 538.2,338.2 542.7,330.7 545.2,329.9 549.2,324.0 553.3,319.0 557.3,314.0 561.3,309.9 565.3,305.9 569.4,302.9 573.4,300.9 577.4,298.9 581.4,297.8 584.5,296.8 586.5,299.9 588.5,298.9 591.5,297.8 594.5,296.8 597.5,296.8 599.6,299.9 600.0,302.9 602.0,301.9 604.0,303.9 607.0,302.9 610.1,303.9 612.1,304.9 614.1,303.9 616.1,306.9 619.1,305.9 622.1,304.9 624.2,306.9 625.2,312.9 628.2,314.0 631.2,314.6 634.2,316.0 637.2,315.4 640.3,316.6 643.3,317.0 645.3,318.0 648.3,316.6 651.3,315.4 654.4,314.6 658.4,313.7 661.4,315.0 664.4,313.3 668.5,312.5 672.5,311.5 675.5,310.5 678.5,309.3 681.5,308.5 684.6,308.9 685.0,310.5 689.0,309.5 693.1,308.5 697.1,308.1 701.1,307.5 705.1,307.1 709.2,306.5 713.2,306.1 717.2,305.5 721.2,306.1 725.3,305.5 729.3,304.9 733.3,304.5 736.3,304.1 739.0,305.5 741.4,304.5 743.4,303.5 745.4,302.5 749.4,300.9 753.5,300.1 757.5,299.1 761.5,298.5 764.5,297.0 767.5,295.4 770.0,291.2 773.0,290.2 776.0,287.2 779.1,286.2 782.1,284.2 785.1,282.1 788.1,280.1 791.1,279.1 794.2,279.1 797.2,279.1 799.2,282.1 801.2,287.2 803.2,286.2 805.2,287.2 807.2,288.2 809.3,290.2 812.3,289.2 815.3,288.2 818.3,288.6 821.3,287.8 824.4,287.2 827.4,286.2 830.4,287.2 833.4,288.2 835.4,292.2 837.4,296.2 839.5,300.3 842.5,301.9 845.5,302.3 848.5,301.3 851.5,302.3 854.6,301.3 857.6,300.3 860.0,299.7 862.3,298.9 864.5,298.6 866.8,299.4 868.5,299.4 870.2,298.0 871.3,297.8 872.5,300.3 873.6,304.8 874.5,309.4 875.9,312.2 878.1,312.2 880.4,311.1 882.7,309.9 884.9,308.8 887.2,307.7 889.5,306.2 891.7,304.8 894.0,303.5 896.3,302.3 898.5,300.9 900.8,299.2 903.1,297.8 905.4,296.7 907.6,295.2 909.9,293.5 912.2,291.8 914.4,290.3 916.7,290.1 919.0,289.0 921.2,287.6 923.5,286.7 925.8,286.1 928.0,285.0 930.3,283.5 932.6,283.3 934.8,282.4 937.1,281.0 939.4,281.0 941.6,279.9 943.9,278.2 946.2,276.7 948.4,275.9 950.7,274.4 953.0,272.9 955.2,272.0 957.5,270.2 959.8,268.5 962.0,266.8 964.3,265.1 966.0,263.8 967.7,264.6 970.0,263.1 972.2,262.0 974.5,260.6 976.8,259.7 978.5,258.9 980.2,257.0 982.4,255.2 984.7,254.0 987.0,252.4 989.3,250.6 990.4,250.6 992.2,252.2 994.4,254.4 996.5,256.0 998.7,258.8 1000.9,259.3 1003.1,258.2 1005.2,258.8 1007.4,258.8 1009.6,257.1 1011.8,255.5 1013.9,254.4 1016.1,253.9 1018.3,252.8 1020.5,252.2 1022.6,250.6 1024.8,248.4 1027.0,247.3 1029.2,247.3 1031.3,245.7 1033.5,243.5 1035.7,241.9 1037.9,240.3 1040.1,238.6 1042.2,237.5 1044.4,237.0 1046.6,235.9 1048.8,234.8 1050.9,236.5 1053.1,235.4 1055.3,233.7 1057.5,232.6 1059.6,232.6 1061.8,232.1 1064.0,232.6 1066.2,233.5 1068.3,233.2 1070.5,232.4 1072.7,231.8 1074.9,232.1 1077.1,231.6 1079.2,231.0 1081.4,230.7 1083.6,229.9 1085.8,228.8 1087.9,228.5 1090.1,228.1 1092.3,227.4 1094.5,227.2 1096.6,226.7 1098.8,225.9 1101.0,225.6 1103.2,225.9 1105.3,225.6 1106.6,225.2 1108.1,227.7 1109.7,229.6 1111.9,229.9 1114.0,231.0 1116.2,232.1 1118.4,232.1 1120.6,231.3 1122.8,231.8 1124.9,232.6 1127.1,233.5 1129.3,233.9 1131.5,233.9 1133.6,233.2 1135.8,232.1 1138.0,231.0 1139.9,230.3 1142.3,228.8 1144.2,227.8 1146.0,229.1 1147.9,229.7 1149.7,228.4 1151.6,227.8 1152.8,230.3 1154.0,232.1 1155.9,230.3 1158.4,227.8 1162.1,224.1 1165.8,220.4 1169.5,216.7 1173.2,213.0 1176.9,209.3 1180.6,205.6 1183.0,203.8 1185.5,203.2 1187.3,201.3 1189.2,199.5 1191.7,197.6 1194.1,196.4 1195.4,197.6 1197.2,199.2 1199.1,199.7 1200.9,199.2 1202.7,198.5 1204.6,198.2 1206.4,198.8 1208.3,198.0 1210.1,197.6 1212.0,197.0 1213.8,196.4 1215.7,195.8 1217.5,195.1 1219.4,196.0 1221.2,196.7 1223.1,196.4 1224.9,196.0 1226.8,196.4 1228.6,196.7 1230.5,197.0 1232.3,197.6 1234.2,198.2 1236.0,198.5 1237.9,197.6 1239.7,197.0 1241.6,196.6 1243.4,196.7 1245.3,196.0 1247.1,195.1 1249.0,194.5 1250.8,194.8 1252.7,194.3 1254.5,194.5 1256.4,193.9 1258.2,193.0 1260.1,192.1 1261.9,191.1 1263.8,190.2 1265.6,189.3 1267.5,188.6 1269.3,187.7 1271.2,186.5 1273.0,185.3 1274.9,184.0 1276.7,182.8 1278.6,181.9 1280.4,181.2 1282.3,180.7" fill="none" stroke="#2a52e0" stroke-width="1.75" stroke-linejoin="round"/>
<polyline points="131.6,494.2 132.2,494.8 134.5,494.7 136.5,496.1 138.1,494.8 139.7,496.1 141.4,497.4 143.0,498.1 145.0,495.8 146.6,495.1 147.9,495.8 148.9,496.8 149.9,492.2 151.5,491.2 153.5,491.0 155.4,491.5 157.7,492.5 159.3,491.2 161.0,490.6 162.6,490.9 164.2,491.9 165.5,492.2 166.5,489.6 168.1,487.3 169.8,487.6 171.4,488.6 172.7,489.3 174.3,487.3 176.0,485.3 177.6,485.3 179.2,486.0 180.9,483.1 182.2,481.1 183.5,479.5 184.8,480.8 186.4,482.7 187.7,483.7 188.7,481.7 190.0,482.1 191.6,483.1 192.9,484.7 194.6,485.3 196.2,484.7 197.5,481.4 198.8,480.4 200.5,480.4 202.1,480.1 203.7,479.8 204.4,475.2 205.1,454.4 207.1,453.4 209.1,451.3 212.1,449.3 214.5,447.3 215.1,442.3 216.1,436.2 217.1,430.2 219.2,425.2 222.2,422.1 225.2,419.1 228.2,415.1 230.2,414.1 232.2,411.1 233.3,408.1 234.3,404.0 235.3,396.6 241.3,386.0 241.6,386.6 249.1,374.5 256.7,365.4 259.7,353.4 264.3,341.3 267.0,329.9 268.5,315.0 270.1,307.9 273.1,305.9 274.1,294.8 275.1,279.7 277.1,273.7 279.1,269.7 281.1,265.6 283.2,258.6 285.2,250.5 287.2,244.5 290.2,241.5 292.2,237.4 293.2,230.4 295.2,228.4 297.2,224.4 300.3,221.9 303.3,221.3 305.3,218.3 306.7,215.3 308.3,216.3 310.3,214.3 312.7,212.3 314.4,208.3 317.4,206.2 319.4,204.2 321.4,202.2 324.0,200.6 326.4,200.2 328.5,197.2 330.9,195.2 332.5,193.2 334.5,189.1 336.5,185.1 338.5,183.1 340.5,184.1 342.5,181.1 344.6,182.1 345.0,184.2 347.0,185.2 349.0,181.1 351.0,179.1 353.1,179.7 355.1,177.1 357.1,176.5 359.1,178.1 361.1,179.1 363.1,178.1 365.1,176.1 367.1,174.1 369.2,174.5 371.2,175.1 373.2,174.1 375.2,175.1 377.2,176.1 379.2,174.5 381.2,175.1 383.3,177.1 385.3,176.1 387.3,177.1 389.3,175.7 391.3,174.5 393.3,177.1 395.3,182.1 397.3,185.2 399.4,184.6 401.4,185.8 403.4,185.2 405.4,186.2 408.4,187.2 410.4,190.2 412.4,193.2 414.5,196.2 416.5,200.3 418.5,204.3 420.5,209.3 422.5,214.4 424.5,218.4 426.5,219.4 427.9,221.4 429.6,218.4 431.2,222.4 432.6,226.4 434.0,230.5 435.8,238.5 438.8,247.6 441.9,256.7 444.9,265.7 447.1,272.2 449.1,278.3 451.1,284.3 453.2,291.3 455.2,296.4 457.2,301.4 459.2,306.4 461.2,309.5 463.2,312.5 465.2,316.5 467.2,320.5 469.3,325.6 471.3,330.6 473.3,334.6 475.3,339.7 477.3,342.7 479.3,347.7 481.3,352.7 483.4,357.8 485.4,362.8 487.4,366.8 489.4,372.9 491.4,378.9 493.2,386.4 495.3,392.8 496.8,400.3 498.1,395.0 499.6,393.9 501.1,401.4 502.8,407.8 504.9,416.4 507.3,427.6 509.2,435.1 511.1,440.8 513.0,446.5 514.8,452.1 516.7,457.8 518.6,464.4 520.5,468.2 522.4,472.9 524.3,477.7 525.6,482.4 527.5,483.3 529.4,487.1 531.3,491.8 533.2,495.6 535.6,499.4 537.5,503.2 539.4,506.0 541.9,508.8 543.8,511.7 545.7,514.5 547.6,518.3 549.8,520.2 551.7,523.0 553.6,526.8 555.5,529.6 557.4,532.5 559.3,535.3 561.2,539.1 563.1,541.0 564.9,542.9 566.8,545.7 568.7,548.5 570.6,550.4 572.5,552.3 574.4,553.8 576.3,555.2 578.2,556.1 580.1,558.0 582.3,560.8 582.9,561.4 584.6,557.9 586.2,554.3 587.7,555.8 589.2,557.4 590.7,558.9 592.3,557.9 593.8,558.4 595.3,559.9 596.8,561.4 598.4,559.9 599.9,551.8 601.2,546.7 602.9,547.2 604.4,546.7 606.5,545.7 608.5,545.2 610.5,544.2 612.6,545.2 614.1,541.1 615.4,538.1 616.6,539.6 618.1,541.6 619.7,542.6 621.2,543.7 622.7,546.2 623.5,543.1 624.2,537.6 624.7,534.0 626.3,533.5 627.8,532.5 629.3,532.0 630.8,531.0 632.4,529.9 633.4,528.4 634.9,527.9 636.4,524.9 637.9,524.9 639.5,526.4 641.0,527.9 642.5,528.4 644.0,525.9 645.6,524.9 647.1,525.4 648.6,527.4 650.1,530.5 651.6,532.5 653.7,533.0 655.2,535.0 656.7,537.6 658.2,539.1 659.8,538.6 661.3,535.0 662.8,533.5 664.3,535.0 666.4,535.5 668.4,537.1 670.4,538.6 672.5,539.1 674.5,538.6 676.0,540.6 677.5,542.6 679.6,543.7 681.6,544.2 683.6,543.1 685.7,541.6 687.7,539.6 689.7,537.6 691.8,537.1 693.8,537.6 695.8,536.0 697.8,535.5 699.4,536.0 700.9,536.5 702.4,535.0 703.9,534.5 705.0,534.5 706.5,533.5 708.0,534.5 709.6,536.0 711.1,537.6 712.6,536.5 714.1,538.1 715.7,539.1 717.2,537.6 719.2,536.5 721.2,537.1 723.3,537.6 725.3,536.0 727.3,536.5 729.4,537.1 730.9,538.1 732.4,536.0 733.9,535.0 735.5,532.0 737.5,532.5 739.5,534.0 741.0,531.5 742.6,529.4 744.1,529.4 745.6,531.0 747.6,532.5 749.7,533.5 751.7,534.0 753.2,532.5 754.7,531.5 756.3,530.5 757.8,529.9 759.3,531.0 760.8,530.5 762.4,529.4 763.4,528.9 764.9,531.0 766.4,534.0 767.9,536.0 770.0,536.0 771.5,535.0 773.0,536.5 774.5,539.1 776.1,540.6 777.6,541.1 779.1,536.0 780.6,537.6 782.2,539.1 783.7,540.1 785.2,541.1 786.7,542.1 788.2,543.7 789.8,544.7 791.3,543.1 793.3,543.1 795.4,543.7 796.9,544.2 797.9,548.7 798.9,553.8 799.9,551.8 800.9,545.7 802.5,541.6 804.0,539.1 805.5,537.6 807.0,538.1 808.6,536.5 810.1,536.5 811.6,538.1 813.6,538.6 815.7,539.1 817.7,539.6 819.7,539.1 821.8,539.1 822.8,538.1 823.8,533.5 824.8,532.5 826.3,532.5 827.8,533.0 829.4,533.5 830.9,531.0 832.4,529.4 833.9,530.5 835.5,527.4 837.0,523.4 838.0,518.3 838.8,510.2 840.1,498.7 842.1,494.7 844.1,492.7 846.1,491.7 848.1,491.7 849.5,493.7 851.1,491.7 853.2,490.7 855.2,491.7 857.2,492.7 859.2,490.7 861.2,487.6 863.2,487.6 865.2,488.7 867.2,486.6 868.7,488.7 869.9,494.7 871.3,493.7 872.7,488.7 873.9,478.6 875.3,472.5 877.3,469.5 879.3,470.5 881.3,471.5 883.4,472.5 885.4,474.6 887.4,475.6 889.4,476.6 890.4,474.6 892.4,476.6 894.4,478.6 896.4,479.6 898.5,480.6 900.5,481.6 902.5,483.6 904.5,483.6 906.5,484.6 908.5,485.6 910.5,486.6 912.5,487.6 914.6,488.7 916.6,491.6 918.0,493.6 919.4,495.6 921.0,498.7 922.7,500.7 924.1,499.7 925.5,498.7 927.1,500.7 928.7,502.7 930.7,503.7 932.7,504.7 934.7,504.7 936.7,505.7 938.8,505.7 940.8,506.7 942.8,508.7 944.8,511.7 946.8,513.8 948.8,516.8 950.8,518.8 953.3,519.8 955.3,520.8 957.3,522.8 959.3,524.8 961.3,525.8 963.3,526.8 965.3,528.9 966.9,529.9 968.4,522.8 969.8,521.8 971.4,523.8 973.4,525.8 975.4,526.8 977.4,528.9 979.4,530.9 981.4,532.9 983.5,534.9 985.5,536.9 987.5,538.9 989.1,539.9 990.5,538.9 991.5,532.9 992.5,526.8 993.5,520.8 995.1,514.8 996.5,510.7 998.6,506.7 1000.6,504.7 1002.0,506.4 1003.6,502.8 1005.0,500.8 1006.0,495.8 1007.7,496.8 1009.1,499.8 1010.5,500.8 1012.1,502.8 1014.1,503.8 1016.1,504.4 1018.1,505.8 1020.1,504.8 1022.1,506.8 1024.2,507.8 1025.8,508.9 1027.2,504.8 1028.6,501.8 1030.2,500.8 1031.8,501.8 1033.2,503.8 1035.2,505.8 1037.2,508.9 1039.3,510.9 1041.3,512.9 1043.3,513.9 1045.3,515.9 1047.3,517.9 1048.3,518.9 1050.3,515.9 1051.9,516.9 1054.0,517.9 1056.0,518.9 1058.0,518.9 1059.4,517.9 1061.4,518.9 1063.4,516.9 1065.4,516.5 1067.4,517.9 1069.5,517.9 1071.5,518.9 1073.5,517.9 1074.9,516.9 1076.5,517.9 1078.5,518.9 1080.0,518.8 1082.0,518.3 1084.1,518.8 1086.1,519.8 1088.1,520.8 1090.2,521.3 1092.2,521.8 1094.2,522.8 1096.2,524.4 1098.3,525.4 1100.3,525.9 1102.3,525.4 1104.4,525.4 1106.4,525.9 1107.9,521.8 1108.9,519.3 1110.5,518.8 1112.5,518.3 1114.5,516.2 1116.5,513.7 1118.6,512.7 1120.1,511.7 1121.6,512.7 1123.7,514.2 1125.7,514.7 1127.7,515.7 1129.7,516.2 1131.3,515.7 1132.8,514.7 1134.8,515.2 1136.9,515.7 1138.9,515.7 1140.9,516.2 1142.4,517.3 1143.8,518.8 1145.0,517.8 1146.5,516.8 1148.0,516.2 1149.5,517.3 1151.1,518.8 1152.1,518.3 1153.1,515.2 1154.6,514.2 1156.1,515.7 1157.7,517.8 1159.2,520.3 1160.7,522.8 1162.2,525.9 1163.8,529.9 1165.8,533.5 1167.8,537.1 1169.8,540.1 1171.9,542.1 1173.9,545.2 1175.9,547.7 1178.0,550.3 1180.0,552.3 1182.0,554.3 1184.1,555.8 1186.1,556.3 1188.1,556.3 1189.6,557.9 1191.7,559.9 1193.7,561.4 1195.2,560.4 1196.8,558.4 1198.8,557.4 1200.3,556.9 1201.8,557.5 1203.5,558.8 1205.3,558.4 1206.6,557.9 1207.9,558.8 1209.3,559.2 1211.0,557.5 1212.8,556.6 1214.6,557.5 1216.3,557.9 1218.1,558.4 1219.4,556.2 1221.2,554.0 1222.9,554.4 1224.7,554.8 1226.5,553.1 1228.2,550.9 1229.5,549.5 1230.9,550.4 1232.2,551.3 1233.5,550.0 1235.3,548.2 1237.0,546.9 1238.8,546.5 1240.6,546.9 1241.9,546.5 1243.2,545.6 1244.5,546.5 1245.9,547.3 1247.6,547.8 1249.4,547.3 1251.1,546.5 1252.9,546.9 1254.2,546.9 1255.6,546.5 1257.3,546.5 1259.1,547.3 1260.8,548.7 1262.6,550.0 1264.4,551.3 1266.1,553.1 1267.9,554.8 1269.7,556.2 1271.4,557.0 1273.2,557.9 1274.5,559.2 1275.8,560.6 1277.6,561.0 1279.4,561.4 1281.1,561.9 1282.9,562.8" fill="none" stroke="#ec1b5e" stroke-width="1.8" stroke-linejoin="round"/>
<polyline points="132.1,566.9 133.9,563.8 135.0,558.1 136.1,563.4 137.8,565.6 139.2,570.4 140.9,568.2 142.3,566.9 143.6,573.5 145.3,574.8 147.1,571.7 149.3,568.2 150.8,563.4 151.5,566.5 152.4,579.7 152.8,592.0 153.3,597.3 154.2,592.9 155.5,598.6 156.8,596.4 158.1,600.4 159.4,597.3 161.2,594.7 163.0,593.8 163.9,591.1 166.1,583.2 167.4,582.8 168.7,583.2 170.0,580.6 171.4,588.5 173.6,598.6 174.9,588.1 176.6,587.6 178.8,586.7 180.6,585.9 182.4,588.5 184.1,591.1 185.9,589.4 186.8,586.3 188.1,589.4 189.9,584.1 191.6,577.0 193.8,571.3 195.6,573.1 198.0,573.5 199.0,573.4 202.0,561.3 202.7,559.9 203.5,547.0 206.1,544.0 208.7,541.9 209.5,534.9 211.1,536.9 213.5,531.9 215.1,532.9 216.7,528.9 218.2,520.8 218.8,504.7 220.2,505.7 221.2,512.7 222.8,507.7 224.2,506.7 226.2,498.7 227.2,494.6 228.2,498.7 229.6,496.6 230.8,490.6 232.2,476.5 233.7,474.5 234.9,466.4 236.7,464.4 237.9,467.4 239.3,459.4 240.3,466.4 241.3,480.5 242.3,483.6 243.3,476.5 244.3,462.4 245.3,453.4 246.3,458.4 247.3,455.4 248.4,460.4 249.4,457.4 251.4,456.4 253.0,459.4 254.4,466.4 255.4,468.5 257.0,470.5 257.8,464.4 259.4,458.4 261.0,454.4 261.8,446.3 263.0,426.2 263.9,419.1 265.1,414.1 265.9,410.1 267.1,412.1 267.9,419.1 269.1,414.1 270.5,412.1 271.5,404.0 273.0,389.1 274.8,385.1 277.8,371.5 280.9,350.3 282.4,338.2 284.8,311.1 286.3,292.9 288.4,296.0 290.5,324.7 292.4,308.0 294.5,317.1 297.5,314.1 299.9,341.3 301.1,351.8 303.5,341.3 305.9,341.3 307.2,354.9 308.3,329.9 309.9,328.0 311.3,325.0 312.7,315.0 314.0,310.9 315.4,308.9 316.4,300.9 317.4,298.9 318.4,290.8 319.4,270.7 320.4,264.6 321.4,261.6 322.4,256.6 324.0,256.6 325.4,252.5 326.8,250.5 328.5,238.5 329.5,234.4 330.5,224.4 331.5,218.3 332.5,214.3 333.5,218.3 334.5,230.4 335.5,248.5 336.5,252.5 337.5,254.6 338.5,260.6 339.5,264.6 340.5,268.7 341.5,250.5 342.5,247.5 342.9,242.5 344.2,248.5 345.0,251.6 346.6,248.6 348.0,238.5 349.4,226.4 351.0,218.4 352.7,212.3 353.5,204.3 354.1,200.3 355.1,208.3 356.1,220.4 357.1,214.4 358.1,211.3 359.5,212.3 361.1,211.3 362.7,217.4 364.1,226.4 365.5,233.5 366.5,237.5 367.5,226.4 368.8,220.4 370.2,218.4 371.2,212.3 372.8,209.3 374.2,208.3 375.6,209.3 376.6,213.4 377.6,210.3 378.8,213.4 380.2,218.4 381.2,213.4 382.8,208.3 384.3,204.3 385.7,200.3 386.3,192.2 387.3,193.2 388.9,197.2 390.3,202.3 391.7,210.3 392.9,219.4 393.9,218.4 395.3,226.4 396.9,236.5 397.9,242.5 399.0,248.6 399.8,239.5 401.0,229.5 402.4,225.4 403.4,224.4 404.4,214.4 405.4,213.4 406.4,218.4 407.4,216.4 408.4,230.5 409.4,216.4 411.0,215.4 412.4,210.3 413.5,209.3 414.5,213.4 415.5,218.4 416.5,228.5 417.5,244.6 418.5,246.6 419.5,248.6 420.5,256.6 421.5,264.7 422.5,274.8 423.5,282.8 424.5,292.9 425.5,302.9 426.5,311.0 427.5,300.9 428.6,307.0 429.6,317.0 430.4,300.5 431.6,299.4 433.0,310.5 434.4,326.6 435.6,320.5 437.0,310.5 438.5,308.5 440.1,299.4 441.1,306.4 442.5,320.5 444.1,328.6 445.1,334.6 446.1,320.5 447.1,311.5 448.5,312.5 449.7,320.5 450.5,308.5 451.7,293.4 452.8,292.3 453.8,300.4 455.2,306.4 456.2,318.5 457.8,320.5 458.8,332.6 459.6,346.7 460.6,338.7 461.8,326.6 462.8,345.7 463.8,336.6 464.6,328.6 465.8,324.6 466.8,319.5 468.3,322.5 469.5,330.6 470.7,327.6 471.9,323.6 472.9,322.5 473.9,328.6 475.3,329.6 476.3,334.6 477.3,330.6 478.7,332.6 479.9,328.6 481.3,334.6 482.3,339.7 483.4,338.7 484.4,346.7 485.6,348.7 486.8,345.7 487.8,350.7 488.8,348.7 489.6,360.8 490.4,348.7 491.4,342.7 492.8,334.6 494.0,326.6 495.0,318.5 496.0,306.4 497.4,297.4 498.5,294.4 499.5,285.3 500.5,284.3 501.5,288.3 502.5,294.4 503.9,304.4 504.9,300.4 506.1,290.3 507.3,280.3 508.5,274.2 509.5,272.2 510.5,264.2 511.5,265.2 512.5,268.2 513.6,264.2 514.6,255.1 515.6,257.1 516.6,258.6 518.0,264.6 519.4,269.7 520.6,260.6 522.0,249.5 523.5,247.5 525.1,247.5 526.1,254.6 527.1,249.5 528.1,258.6 529.1,250.5 530.1,252.5 531.1,249.5 532.1,253.6 533.1,258.6 534.1,252.5 535.1,250.5 536.1,247.5 537.5,245.5 538.8,240.5 539.8,234.4 540.6,240.5 541.2,254.6 542.2,262.6 543.2,263.6 544.2,268.7 545.2,265.6 546.2,268.7 547.2,266.6 548.2,261.6 549.2,254.6 550.2,254.6 551.2,252.5 552.2,257.6 552.8,253.6 553.7,260.6 554.5,274.7 555.3,284.8 556.1,290.8 556.9,278.7 557.9,269.7 558.9,276.7 560.3,279.7 561.7,277.7 562.7,282.7 563.7,288.8 564.5,282.7 565.7,268.7 566.5,256.6 567.7,252.5 569.0,250.5 569.8,240.5 570.6,232.4 571.4,223.4 572.4,228.4 573.4,226.4 574.8,223.4 575.8,218.3 576.8,215.3 577.8,218.3 579.0,214.3 579.8,208.3 581.0,200.2 582.4,199.2 583.9,196.2 584.7,190.1 585.9,184.1 586.7,189.1 587.5,196.2 588.5,200.2 589.9,199.2 591.1,202.2 591.9,195.2 592.7,204.2 593.5,209.3 594.5,200.2 595.5,197.2 597.1,198.2 598.6,195.2 599.6,194.2 600.0,194.2 601.6,196.2 603.0,200.2 604.4,194.2 605.6,186.1 606.6,179.1 607.7,181.1 608.7,190.1 609.7,188.1 611.1,185.1 612.5,187.1 613.7,190.1 614.5,200.2 615.7,204.2 616.7,214.3 617.7,210.3 618.7,206.2 619.7,209.3 620.7,217.3 621.7,215.3 622.8,210.3 623.8,209.3 624.6,214.3 625.6,228.4 626.6,221.3 627.8,215.3 629.2,213.3 630.6,215.3 631.8,218.3 632.8,228.4 633.8,238.5 634.6,248.5 635.8,244.5 636.8,242.5 637.8,246.5 638.9,254.6 639.9,256.6 640.9,250.5 641.9,245.5 642.7,248.5 643.7,256.6 644.7,258.6 645.7,252.5 646.7,256.6 647.7,261.6 648.7,260.6 649.7,254.6 650.7,250.5 651.7,248.5 652.7,244.5 653.8,241.5 655.4,241.5 656.8,242.5 658.0,242.5 659.4,250.5 660.4,261.6 661.4,260.6 662.8,256.6 664.0,256.6 664.8,258.6 666.0,263.6 667.4,272.7 668.9,281.7 670.1,286.8 671.5,284.8 672.9,281.7 674.1,274.7 674.9,273.7 676.1,278.7 677.1,277.7 678.1,279.7 679.5,279.7 680.5,282.7 681.5,284.8 682.5,288.8 683.6,298.9 684.2,310.9 685.0,323.0 686.0,316.6 687.4,312.5 689.0,308.5 690.6,306.5 692.0,304.5 693.5,305.5 694.7,302.5 696.1,307.5 697.1,312.5 698.1,304.5 699.1,287.4 700.1,284.4 701.1,277.3 702.7,273.3 704.1,272.3 705.1,276.3 706.1,281.3 707.5,283.4 708.8,278.3 710.2,271.3 711.2,272.3 712.2,284.4 713.2,292.4 714.2,294.4 715.2,301.5 716.2,308.5 716.8,312.5 717.8,309.5 718.8,310.5 719.6,305.5 720.8,299.5 721.8,301.5 722.8,308.5 723.7,296.4 724.3,276.3 725.3,272.3 726.3,274.3 727.3,279.3 728.3,296.4 729.3,301.5 730.3,303.5 731.3,304.5 732.3,296.4 733.3,285.4 733.9,284.4 734.9,296.4 735.7,301.5 736.9,302.5 737.7,300.5 739.0,298.5 740.0,292.4 741.4,289.4 743.0,285.4 744.4,283.4 745.8,284.4 747.0,282.3 748.4,277.3 749.8,273.3 751.0,271.3 752.4,260.2 753.9,257.2 755.5,258.2 756.5,266.2 757.5,265.2 758.7,262.2 759.9,261.2 761.1,263.2 761.9,269.3 763.1,275.3 764.1,278.3 765.1,279.3 766.5,281.3 767.5,287.4 768.6,294.4 769.2,297.4 770.0,292.2 771.6,290.2 773.0,293.2 774.4,289.2 776.0,288.2 777.7,286.2 779.1,293.2 780.1,295.2 781.1,292.2 782.1,295.2 783.1,291.2 784.1,305.3 785.1,296.2 786.1,300.3 787.1,302.3 788.1,299.3 789.1,306.3 790.1,302.3 791.1,308.3 792.1,296.2 793.2,298.3 793.8,310.3 795.2,316.4 796.2,324.4 797.3,339.4 797.6,348.9 797.9,355.2 798.4,352.0 798.9,353.9 799.5,361.5 800.1,367.2 801.1,365.9 802.0,362.7 802.9,355.2 803.9,349.5 804.5,350.8 805.2,355.2 806.1,356.4 806.7,364.6 807.2,367.8 807.7,360.2 808.3,357.1 808.9,359.0 809.6,363.4 810.2,361.5 810.9,357.7 811.8,356.4 812.4,364.0 813.0,363.4 814.0,361.5 814.9,362.1 815.9,365.3 816.8,369.7 817.4,367.8 818.1,365.9 818.7,363.4 819.3,355.2 819.6,347.0 820.3,345.7 821.0,345.4 821.5,347.6 822.2,355.2 822.8,359.6 823.4,360.9 824.4,360.9 825.3,360.5 826.2,359.0 826.9,352.7 827.5,349.5 828.3,350.2 829.1,353.9 830.0,356.4 831.0,358.3 831.6,360.9 832.2,365.3 832.9,370.3 833.5,375.3 834.0,410.1 835.0,422.2 836.4,425.2 837.4,434.3 838.1,444.4 839.1,448.4 839.7,460.5 840.7,446.4 841.7,442.3 843.1,443.4 844.1,448.4 845.1,440.3 846.5,435.3 847.7,433.3 848.7,438.3 849.7,442.3 850.7,446.4 852.1,450.4 853.8,455.4 855.2,456.4 856.2,450.4 857.2,446.4 858.2,440.3 859.2,433.3 860.2,430.3 861.2,431.3 862.2,438.3 863.2,444.4 864.2,452.4 865.2,456.4 866.2,448.4 867.2,444.4 868.3,440.3 869.3,438.3 870.3,437.3 871.3,433.3 871.9,422.2 872.7,415.2 873.9,414.2 874.9,416.2 875.9,419.2 876.9,420.2 877.7,426.2 878.7,429.3 879.7,436.3 880.7,424.2 881.7,412.1 882.7,410.1 884.0,411.1 885.0,412.1 886.0,416.2 887.0,415.2 888.4,420.2 889.4,421.2 890.4,418.2 891.4,416.2 892.4,415.2 893.4,414.2 894.4,410.1 895.4,411.1 896.4,409.1 898.0,405.1 899.5,405.1 900.5,407.1 901.5,409.1 902.5,413.2 904.1,416.2 905.1,424.2 906.1,438.3 907.1,437.3 908.1,433.3 909.5,432.3 910.9,433.3 911.9,436.3 912.9,444.4 914.2,450.4 915.2,448.4 916.0,446.3 917.4,449.3 919.0,448.3 920.6,449.3 922.0,450.3 923.1,454.4 924.1,461.4 925.1,458.4 926.1,448.3 927.1,434.2 928.1,430.2 929.1,428.2 930.1,425.2 931.1,434.2 932.1,446.3 933.1,448.3 934.1,450.3 935.1,448.3 936.1,451.3 937.1,453.4 938.2,456.4 939.2,462.4 940.2,465.4 941.2,460.4 942.2,456.4 943.2,460.4 944.2,461.4 945.2,458.4 946.2,457.4 947.2,455.4 948.2,453.4 949.2,455.4 950.2,458.4 951.2,452.3 952.2,448.3 953.3,445.3 954.3,446.3 955.3,449.3 956.3,451.3 957.3,454.4 958.3,453.4 959.3,455.4 960.3,457.4 961.3,458.4 962.3,457.4 963.3,459.4 964.3,457.4 965.3,458.4 966.3,456.4 967.3,454.4 968.4,456.4 969.4,458.4 970.4,459.4 971.4,457.4 972.4,457.4 973.4,455.4 974.4,453.4 975.4,447.3 976.4,442.3 977.4,440.3 978.4,441.3 979.4,442.3 980.4,441.3 981.4,443.3 983.0,445.3 984.5,445.3 985.5,438.3 986.5,436.2 987.5,435.2 988.5,437.2 989.5,441.3 990.5,448.3 991.1,464.4 991.7,484.6 992.1,499.7 992.7,478.5 993.5,480.5 994.5,486.6 995.5,492.6 996.5,489.6 997.5,487.6 998.6,486.6 999.6,489.6 1000.6,490.6 1002.0,488.7 1003.0,492.7 1004.0,500.8 1005.0,492.7 1006.0,489.7 1007.7,490.7 1009.1,491.7 1010.5,493.8 1011.7,492.7 1012.7,488.7 1013.7,482.7 1015.1,483.7 1016.1,485.7 1017.7,483.7 1019.1,484.7 1020.1,485.7 1021.7,482.7 1023.2,483.7 1024.2,483.7 1025.2,480.7 1026.2,476.6 1027.2,474.6 1028.2,475.6 1029.2,480.7 1030.2,488.7 1031.2,489.7 1032.2,488.7 1033.2,491.7 1034.2,486.7 1035.8,486.7 1037.2,487.7 1038.7,486.7 1040.3,486.7 1041.3,485.7 1042.3,488.7 1043.3,489.7 1044.7,490.3 1046.3,489.7 1047.9,488.7 1049.3,487.7 1050.7,486.7 1052.3,485.7 1054.0,484.7 1055.4,482.7 1056.4,479.7 1057.4,474.6 1058.4,464.6 1059.4,452.5 1060.4,440.4 1061.4,437.4 1062.4,438.4 1063.4,437.4 1064.4,436.4 1065.4,440.4 1066.4,430.3 1067.4,420.3 1068.5,419.3 1069.5,420.3 1070.9,418.3 1072.5,418.3 1074.1,416.2 1075.5,417.2 1076.1,413.2 1076.9,410.2 1078.1,415.2 1078.9,412.2 1080.1,412.2 1081.5,414.2 1082.9,416.2 1084.2,417.2 1085.0,416.5 1086.0,415.5 1087.0,420.5 1088.0,428.6 1089.4,431.6 1091.0,430.6 1092.7,428.6 1093.5,420.5 1094.7,408.5 1096.1,404.4 1097.5,403.4 1098.7,402.4 1100.1,403.4 1101.1,406.4 1102.7,409.5 1104.1,412.5 1105.1,416.5 1106.1,413.5 1107.1,415.5 1108.2,414.5 1109.2,412.5 1110.2,413.5 1111.2,419.5 1112.2,422.5 1113.6,423.6 1114.8,424.6 1116.2,428.6 1117.2,434.6 1118.2,444.7 1119.2,446.7 1120.2,438.7 1121.2,422.5 1122.2,406.4 1123.3,402.4 1124.3,404.4 1124.9,396.4 1125.7,384.3 1126.7,379.3 1127.7,374.2 1128.9,375.2 1129.7,377.2 1130.5,372.2 1131.7,374.2 1132.5,376.2 1133.3,375.2 1134.3,377.2 1135.3,379.3 1136.3,376.2 1137.3,380.3 1138.4,375.2 1139.4,372.2 1141.0,371.2 1142.4,373.2 1143.8,374.2 1145.0,376.2 1146.4,373.2 1147.8,374.2 1149.0,375.2 1149.8,368.2 1151.0,360.1 1152.4,358.1 1153.9,356.1 1155.5,358.1 1157.1,356.1 1158.5,358.1 1159.9,359.1 1161.1,363.2 1161.9,370.2 1162.9,376.2 1163.9,379.3 1165.1,377.2 1166.3,375.2 1167.1,370.2 1168.4,365.2 1169.6,363.2 1170.6,364.2 1171.6,365.2 1172.6,368.2 1173.6,371.2 1174.1,366.0 1175.6,366.7 1176.0,366.3 1176.9,365.0 1177.8,362.3 1178.7,365.9 1179.6,369.4 1180.4,372.9 1181.3,376.0 1182.6,377.3 1183.5,380.0 1184.4,383.1 1185.5,383.9 1186.6,383.5 1187.8,380.9 1188.8,380.9 1189.7,380.0 1190.4,379.1 1191.0,382.6 1191.9,381.7 1192.8,383.1 1193.7,382.2 1194.5,383.5 1195.4,382.6 1196.3,380.9 1196.9,382.6 1197.6,386.1 1198.5,387.0 1199.4,385.3 1200.3,383.9 1201.2,379.1 1201.9,373.4 1202.5,373.8 1203.4,376.0 1204.2,377.3 1205.1,379.1 1206.0,383.1 1206.9,380.9 1207.8,380.9 1208.7,381.3 1209.5,382.2 1210.4,383.1 1210.9,382.6 1211.3,380.9 1211.7,386.1 1212.2,392.3 1212.6,386.1 1213.5,386.6 1214.4,387.0 1215.3,388.4 1216.0,391.4 1217.0,391.9 1217.9,391.4 1218.8,392.8 1219.5,396.7 1220.1,397.6 1220.7,395.0 1221.4,390.6 1222.3,387.5 1223.2,386.1 1224.1,387.0 1225.0,386.1 1225.4,383.5 1225.8,374.7 1226.3,365.9 1226.7,360.6 1227.2,358.8 1227.8,358.4 1228.5,356.2 1229.4,354.4 1230.4,355.3 1231.3,355.7 1232.2,356.2 1233.1,354.0 1233.8,354.8 1234.7,358.4 1235.5,356.6 1236.4,355.7 1237.8,354.8 1238.6,354.0 1239.5,350.9 1240.4,351.3 1241.0,352.6 1241.7,354.8 1242.6,358.4 1243.5,357.5 1244.4,356.6 1245.2,357.0 1246.1,356.6 1247.0,356.2 1247.9,354.8 1248.8,354.4 1249.7,354.0 1250.3,348.2 1250.7,350.9 1251.4,355.7 1252.3,356.6 1253.2,357.0 1254.1,357.5 1254.9,358.4 1255.8,359.7 1256.7,360.6 1257.6,360.1 1258.5,359.7 1259.4,360.1 1260.2,359.3 1261.1,358.8 1261.6,361.5 1262.0,365.0 1262.9,364.5 1263.8,364.1 1264.6,364.1 1265.5,363.7 1266.4,364.1 1267.3,363.7 1268.2,363.7 1269.1,363.2 1270.1,361.5 1270.8,363.2 1271.7,364.5 1272.8,365.4 1273.9,365.9 1275.1,366.3 1275.9,365.9 1276.8,364.1 1277.4,361.0 1278.3,360.6 1279.2,361.9 1280.1,362.3 1281.0,363.0 1281.8,363.4 1282.7,363.2" fill="none" stroke="#111111" stroke-width="1.75" stroke-linejoin="round"/>
<line x1="583" y1="562.6" x2="1284.5" y2="562.6" stroke="#111" stroke-width="2.2" stroke-dasharray="4,3.4"/>
<line x1="73.7" y1="141" x2="73.7" y2="653" stroke="#e8185f" stroke-width="1.6"/>
<line x1="125.2" y1="141" x2="125.2" y2="653" stroke="#111" stroke-width="1.6"/>
<line x1="1289.8" y1="141" x2="1289.8" y2="653" stroke="#2a52e0" stroke-width="1.8"/>
<text x="64.6" y="267.2" text-anchor="end" font-family="Liberation Sans, sans-serif" font-size="10.5" fill="#4a4a4a">4.4M</text>
<text x="64.6" y="395.2" text-anchor="end" font-family="Liberation Sans, sans-serif" font-size="10.5" fill="#4a4a4a">3.6M</text>
<text x="64.6" y="523.2" text-anchor="end" font-family="Liberation Sans, sans-serif" font-size="10.5" fill="#4a4a4a">2.8M</text>
<text x="64.6" y="651.2" text-anchor="end" font-family="Liberation Sans, sans-serif" font-size="10.5" fill="#4a4a4a">2M</text>
<text x="116.6" y="203" text-anchor="end" font-family="Liberation Sans, sans-serif" font-size="10.5" fill="#4a4a4a">60K</text>
<text x="116.6" y="447" text-anchor="end" font-family="Liberation Sans, sans-serif" font-size="10.5" fill="#4a4a4a">20K</text>
<text x="116.6" y="651.2" text-anchor="end" font-family="Liberation Sans, sans-serif" font-size="10.5" fill="#4a4a4a">8K</text>
<text x="1298" y="267.2" font-family="Liberation Sans, sans-serif" font-size="10.5" fill="#4a4a4a">13.8M</text>
<text x="1298" y="395.2" font-family="Liberation Sans, sans-serif" font-size="10.5" fill="#4a4a4a">12.6M</text>
<text x="1298" y="523.2" font-family="Liberation Sans, sans-serif" font-size="10.5" fill="#4a4a4a">11.4M</text>
<text x="1298" y="651.2" font-family="Liberation Sans, sans-serif" font-size="10.5" fill="#4a4a4a">10.2M</text>
<text x="182.5" y="677.7" font-family="Liberation Sans, sans-serif" font-size="11.5" fill="#555" text-anchor="middle" letter-spacing="0.15">Oct '20</text>
<text x="279.3" y="677.7" font-family="Liberation Sans, sans-serif" font-size="11.5" fill="#555" text-anchor="middle" letter-spacing="0.15">Jan '21</text>
<text x="374" y="677.7" font-family="Liberation Sans, sans-serif" font-size="11.5" fill="#555" text-anchor="middle" letter-spacing="0.15">Apr '21</text>
<text x="469.4" y="677.7" font-family="Liberation Sans, sans-serif" font-size="11.5" fill="#555" text-anchor="middle" letter-spacing="0.15">Jul '21</text>
<text x="566.5" y="677.7" font-family="Liberation Sans, sans-serif" font-size="11.5" fill="#555" text-anchor="middle" letter-spacing="0.15">Oct '21</text>
<text x="662.5" y="677.7" font-family="Liberation Sans, sans-serif" font-size="11.5" fill="#555" text-anchor="middle" letter-spacing="0.15">Jan '22</text>
<text x="757.5" y="677.7" font-family="Liberation Sans, sans-serif" font-size="11.5" fill="#555" text-anchor="middle" letter-spacing="0.15">Apr '22</text>
<text x="853" y="677.7" font-family="Liberation Sans, sans-serif" font-size="11.5" fill="#555" text-anchor="middle" letter-spacing="0.15">Jul '22</text>
<text x="950.4" y="677.7" font-family="Liberation Sans, sans-serif" font-size="11.5" fill="#555" text-anchor="middle" letter-spacing="0.15">Oct '22</text>
<text x="1047.3" y="677.7" font-family="Liberation Sans, sans-serif" font-size="11.5" fill="#555" text-anchor="middle" letter-spacing="0.15">Jan '23</text>
<text x="1142.1" y="677.7" font-family="Liberation Sans, sans-serif" font-size="11.5" fill="#555" text-anchor="middle" letter-spacing="0.15">Apr '23</text>
<text x="1237.3" y="677.7" font-family="Liberation Sans, sans-serif" font-size="11.5" fill="#555" text-anchor="middle" letter-spacing="0.15">Jul '23</text>
</svg>
<div class="ann ab" style="left:998.5px;top:105.5px;color:#1d5fe3"><span style="letter-spacing:0.66px">Long-Term Holder Supply</span><br><span style="letter-spacing:0.62px">Continues to Reach New ATHs</span></div>
<div class="ann ai" style="left:1003.2px;top:153px;color:#2459de;letter-spacing:0.09px">Current Value: 14.6M BTC</div>
<div class="ann ab" style="left:953px;top:584.5px;color:#e8156c"><span style="letter-spacing:0.72px">Short-Term Holder Supply</span><br><span style="letter-spacing:0.54px">has Declined to Cycle Lows</span></div>
<div class="ann ai" style="left:949.5px;top:631px;color:#e8156c;letter-spacing:0.25px">Current Value: 2.56M BTC</div>
<div class="foot">© 2023 Glassnode. All Rights Reserved.</div>
<div class="logo">glassnode</div>
</body></html>
